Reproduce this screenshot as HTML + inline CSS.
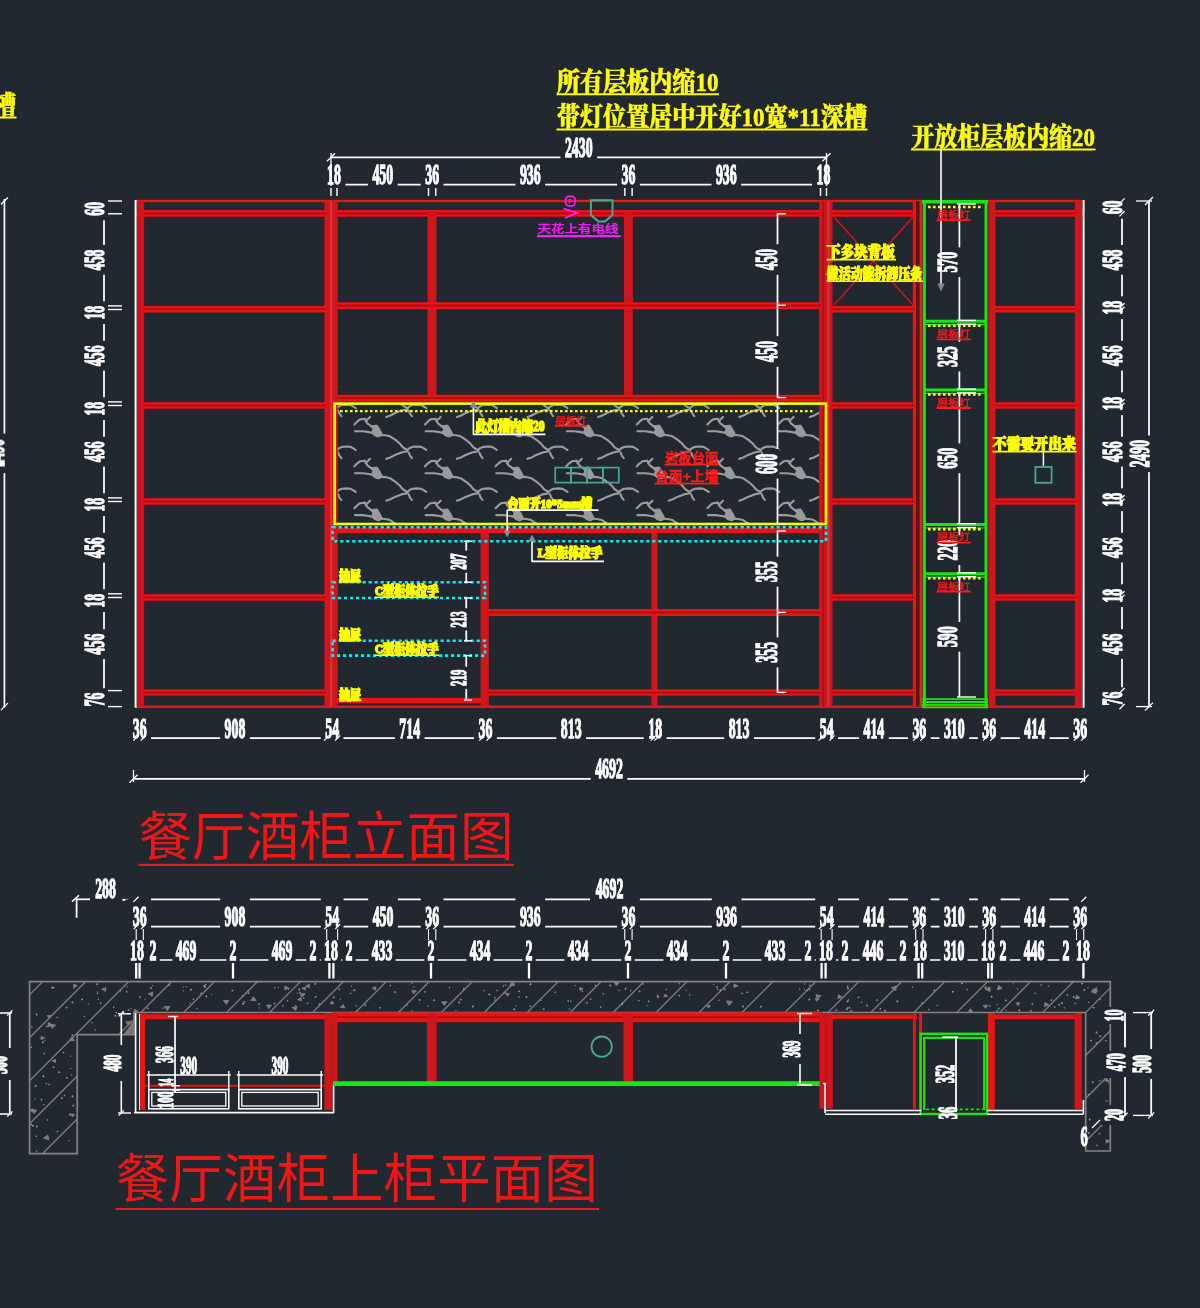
<!DOCTYPE html>
<html lang="zh"><head><meta charset="utf-8"><title>餐厅酒柜立面图</title>
<style>
html,body{margin:0;padding:0;background:#212830;}
body{width:1200px;height:1308px;overflow:hidden;}
svg{display:block;}
.d{font-family:"Liberation Serif","DejaVu Serif",serif;font-weight:bold;stroke:#fff;stroke-width:1.1px;vector-effect:non-scaling-stroke;}
.y{font-family:"Liberation Serif","Noto Serif CJK SC","Noto Sans CJK SC",serif;font-weight:900;fill:#ffff00;}
.t{font-family:"Liberation Sans","Noto Sans CJK SC","WenQuanYi Zen Hei",sans-serif;font-weight:400;fill:#f01418;}
.s{font-family:"Liberation Sans","Noto Sans CJK SC","WenQuanYi Zen Hei",sans-serif;}
</style></head><body>
<svg width="1200" height="1308" viewBox="0 0 1200 1308">
<defs><filter id="soft" x="0" y="0" width="1200" height="1308" filterUnits="userSpaceOnUse"><feGaussianBlur stdDeviation="0.55"/></filter></defs>
<rect width="1200" height="1308" fill="#212830"/>
<g filter="url(#soft)">
<g id="elev">
<clipPath id="mc"><rect x="335" y="404" width="490.5" height="119.5"/></clipPath>
<g clip-path="url(#mc)" fill="none" stroke="#9c9c9c" stroke-width="2.1" stroke-linecap="round" stroke-linejoin="round">
<path transform="translate(213.2 333.1)" d="M0,7.5 L3,4.5 L5.6,2.5 L10.6,1.9 M15.6,0 L11.2,4.4 M10.6,2.2 L13,6.5 L16.9,9.4 L21.9,13.1 M0.6,14.4 L8,14.4 L13.1,15 L21.9,16.9 M26.9,18.1 L31,18.3 L35.6,19.4 L41,23 L45.6,26.9 L48,30 L50.6,31.9 L53.1,33.1 M53.1,33.1 L55.5,31 L58.1,30 L63,29.6 L66.9,30 L69.5,31.5 L71.9,33.1 M53.1,34.4 L47,35.6 L40.6,38.1 L36,40.5 L31.9,41.9 M54.4,35.6 L55.5,38.5 L57.5,41.2"/>
<path transform="translate(213.2 333.1)" d="M16.2,9.0 L22.8,8.2 L25.5,12.5 L28.3,18.2 L24,20.2 L19.5,18.6 L17.2,15.5 L18.5,12.5 Z" fill="#9a9a9a" stroke-width="1"/>
<path transform="translate(283.8 333.1)" d="M0,7.5 L3,4.5 L5.6,2.5 L10.6,1.9 M15.6,0 L11.2,4.4 M10.6,2.2 L13,6.5 L16.9,9.4 L21.9,13.1 M0.6,14.4 L8,14.4 L13.1,15 L21.9,16.9 M26.9,18.1 L31,18.3 L35.6,19.4 L41,23 L45.6,26.9 L48,30 L50.6,31.9 L53.1,33.1 M53.1,33.1 L55.5,31 L58.1,30 L63,29.6 L66.9,30 L69.5,31.5 L71.9,33.1 M53.1,34.4 L47,35.6 L40.6,38.1 L36,40.5 L31.9,41.9 M54.4,35.6 L55.5,38.5 L57.5,41.2"/>
<path transform="translate(283.8 333.1)" d="M16.2,9.0 L22.8,8.2 L25.5,12.5 L28.3,18.2 L24,20.2 L19.5,18.6 L17.2,15.5 L18.5,12.5 Z" fill="#9a9a9a" stroke-width="1"/>
<path transform="translate(354.4 333.1)" d="M0,7.5 L3,4.5 L5.6,2.5 L10.6,1.9 M15.6,0 L11.2,4.4 M10.6,2.2 L13,6.5 L16.9,9.4 L21.9,13.1 M0.6,14.4 L8,14.4 L13.1,15 L21.9,16.9 M26.9,18.1 L31,18.3 L35.6,19.4 L41,23 L45.6,26.9 L48,30 L50.6,31.9 L53.1,33.1 M53.1,33.1 L55.5,31 L58.1,30 L63,29.6 L66.9,30 L69.5,31.5 L71.9,33.1 M53.1,34.4 L47,35.6 L40.6,38.1 L36,40.5 L31.9,41.9 M54.4,35.6 L55.5,38.5 L57.5,41.2"/>
<path transform="translate(354.4 333.1)" d="M16.2,9.0 L22.8,8.2 L25.5,12.5 L28.3,18.2 L24,20.2 L19.5,18.6 L17.2,15.5 L18.5,12.5 Z" fill="#9a9a9a" stroke-width="1"/>
<path transform="translate(425 333.1)" d="M0,7.5 L3,4.5 L5.6,2.5 L10.6,1.9 M15.6,0 L11.2,4.4 M10.6,2.2 L13,6.5 L16.9,9.4 L21.9,13.1 M0.6,14.4 L8,14.4 L13.1,15 L21.9,16.9 M26.9,18.1 L31,18.3 L35.6,19.4 L41,23 L45.6,26.9 L48,30 L50.6,31.9 L53.1,33.1 M53.1,33.1 L55.5,31 L58.1,30 L63,29.6 L66.9,30 L69.5,31.5 L71.9,33.1 M53.1,34.4 L47,35.6 L40.6,38.1 L36,40.5 L31.9,41.9 M54.4,35.6 L55.5,38.5 L57.5,41.2"/>
<path transform="translate(425 333.1)" d="M16.2,9.0 L22.8,8.2 L25.5,12.5 L28.3,18.2 L24,20.2 L19.5,18.6 L17.2,15.5 L18.5,12.5 Z" fill="#9a9a9a" stroke-width="1"/>
<path transform="translate(495.6 333.1)" d="M0,7.5 L3,4.5 L5.6,2.5 L10.6,1.9 M15.6,0 L11.2,4.4 M10.6,2.2 L13,6.5 L16.9,9.4 L21.9,13.1 M0.6,14.4 L8,14.4 L13.1,15 L21.9,16.9 M26.9,18.1 L31,18.3 L35.6,19.4 L41,23 L45.6,26.9 L48,30 L50.6,31.9 L53.1,33.1 M53.1,33.1 L55.5,31 L58.1,30 L63,29.6 L66.9,30 L69.5,31.5 L71.9,33.1 M53.1,34.4 L47,35.6 L40.6,38.1 L36,40.5 L31.9,41.9 M54.4,35.6 L55.5,38.5 L57.5,41.2"/>
<path transform="translate(495.6 333.1)" d="M16.2,9.0 L22.8,8.2 L25.5,12.5 L28.3,18.2 L24,20.2 L19.5,18.6 L17.2,15.5 L18.5,12.5 Z" fill="#9a9a9a" stroke-width="1"/>
<path transform="translate(566.2 333.1)" d="M0,7.5 L3,4.5 L5.6,2.5 L10.6,1.9 M15.6,0 L11.2,4.4 M10.6,2.2 L13,6.5 L16.9,9.4 L21.9,13.1 M0.6,14.4 L8,14.4 L13.1,15 L21.9,16.9 M26.9,18.1 L31,18.3 L35.6,19.4 L41,23 L45.6,26.9 L48,30 L50.6,31.9 L53.1,33.1 M53.1,33.1 L55.5,31 L58.1,30 L63,29.6 L66.9,30 L69.5,31.5 L71.9,33.1 M53.1,34.4 L47,35.6 L40.6,38.1 L36,40.5 L31.9,41.9 M54.4,35.6 L55.5,38.5 L57.5,41.2"/>
<path transform="translate(566.2 333.1)" d="M16.2,9.0 L22.8,8.2 L25.5,12.5 L28.3,18.2 L24,20.2 L19.5,18.6 L17.2,15.5 L18.5,12.5 Z" fill="#9a9a9a" stroke-width="1"/>
<path transform="translate(636.8 333.1)" d="M0,7.5 L3,4.5 L5.6,2.5 L10.6,1.9 M15.6,0 L11.2,4.4 M10.6,2.2 L13,6.5 L16.9,9.4 L21.9,13.1 M0.6,14.4 L8,14.4 L13.1,15 L21.9,16.9 M26.9,18.1 L31,18.3 L35.6,19.4 L41,23 L45.6,26.9 L48,30 L50.6,31.9 L53.1,33.1 M53.1,33.1 L55.5,31 L58.1,30 L63,29.6 L66.9,30 L69.5,31.5 L71.9,33.1 M53.1,34.4 L47,35.6 L40.6,38.1 L36,40.5 L31.9,41.9 M54.4,35.6 L55.5,38.5 L57.5,41.2"/>
<path transform="translate(636.8 333.1)" d="M16.2,9.0 L22.8,8.2 L25.5,12.5 L28.3,18.2 L24,20.2 L19.5,18.6 L17.2,15.5 L18.5,12.5 Z" fill="#9a9a9a" stroke-width="1"/>
<path transform="translate(707.4 333.1)" d="M0,7.5 L3,4.5 L5.6,2.5 L10.6,1.9 M15.6,0 L11.2,4.4 M10.6,2.2 L13,6.5 L16.9,9.4 L21.9,13.1 M0.6,14.4 L8,14.4 L13.1,15 L21.9,16.9 M26.9,18.1 L31,18.3 L35.6,19.4 L41,23 L45.6,26.9 L48,30 L50.6,31.9 L53.1,33.1 M53.1,33.1 L55.5,31 L58.1,30 L63,29.6 L66.9,30 L69.5,31.5 L71.9,33.1 M53.1,34.4 L47,35.6 L40.6,38.1 L36,40.5 L31.9,41.9 M54.4,35.6 L55.5,38.5 L57.5,41.2"/>
<path transform="translate(707.4 333.1)" d="M16.2,9.0 L22.8,8.2 L25.5,12.5 L28.3,18.2 L24,20.2 L19.5,18.6 L17.2,15.5 L18.5,12.5 Z" fill="#9a9a9a" stroke-width="1"/>
<path transform="translate(778 333.1)" d="M0,7.5 L3,4.5 L5.6,2.5 L10.6,1.9 M15.6,0 L11.2,4.4 M10.6,2.2 L13,6.5 L16.9,9.4 L21.9,13.1 M0.6,14.4 L8,14.4 L13.1,15 L21.9,16.9 M26.9,18.1 L31,18.3 L35.6,19.4 L41,23 L45.6,26.9 L48,30 L50.6,31.9 L53.1,33.1 M53.1,33.1 L55.5,31 L58.1,30 L63,29.6 L66.9,30 L69.5,31.5 L71.9,33.1 M53.1,34.4 L47,35.6 L40.6,38.1 L36,40.5 L31.9,41.9 M54.4,35.6 L55.5,38.5 L57.5,41.2"/>
<path transform="translate(778 333.1)" d="M16.2,9.0 L22.8,8.2 L25.5,12.5 L28.3,18.2 L24,20.2 L19.5,18.6 L17.2,15.5 L18.5,12.5 Z" fill="#9a9a9a" stroke-width="1"/>
<path transform="translate(213.2 375)" d="M0,7.5 L3,4.5 L5.6,2.5 L10.6,1.9 M15.6,0 L11.2,4.4 M10.6,2.2 L13,6.5 L16.9,9.4 L21.9,13.1 M0.6,14.4 L8,14.4 L13.1,15 L21.9,16.9 M26.9,18.1 L31,18.3 L35.6,19.4 L41,23 L45.6,26.9 L48,30 L50.6,31.9 L53.1,33.1 M53.1,33.1 L55.5,31 L58.1,30 L63,29.6 L66.9,30 L69.5,31.5 L71.9,33.1 M53.1,34.4 L47,35.6 L40.6,38.1 L36,40.5 L31.9,41.9 M54.4,35.6 L55.5,38.5 L57.5,41.2"/>
<path transform="translate(213.2 375)" d="M16.2,9.0 L22.8,8.2 L25.5,12.5 L28.3,18.2 L24,20.2 L19.5,18.6 L17.2,15.5 L18.5,12.5 Z" fill="#9a9a9a" stroke-width="1"/>
<path transform="translate(283.8 375)" d="M0,7.5 L3,4.5 L5.6,2.5 L10.6,1.9 M15.6,0 L11.2,4.4 M10.6,2.2 L13,6.5 L16.9,9.4 L21.9,13.1 M0.6,14.4 L8,14.4 L13.1,15 L21.9,16.9 M26.9,18.1 L31,18.3 L35.6,19.4 L41,23 L45.6,26.9 L48,30 L50.6,31.9 L53.1,33.1 M53.1,33.1 L55.5,31 L58.1,30 L63,29.6 L66.9,30 L69.5,31.5 L71.9,33.1 M53.1,34.4 L47,35.6 L40.6,38.1 L36,40.5 L31.9,41.9 M54.4,35.6 L55.5,38.5 L57.5,41.2"/>
<path transform="translate(283.8 375)" d="M16.2,9.0 L22.8,8.2 L25.5,12.5 L28.3,18.2 L24,20.2 L19.5,18.6 L17.2,15.5 L18.5,12.5 Z" fill="#9a9a9a" stroke-width="1"/>
<path transform="translate(354.4 375)" d="M0,7.5 L3,4.5 L5.6,2.5 L10.6,1.9 M15.6,0 L11.2,4.4 M10.6,2.2 L13,6.5 L16.9,9.4 L21.9,13.1 M0.6,14.4 L8,14.4 L13.1,15 L21.9,16.9 M26.9,18.1 L31,18.3 L35.6,19.4 L41,23 L45.6,26.9 L48,30 L50.6,31.9 L53.1,33.1 M53.1,33.1 L55.5,31 L58.1,30 L63,29.6 L66.9,30 L69.5,31.5 L71.9,33.1 M53.1,34.4 L47,35.6 L40.6,38.1 L36,40.5 L31.9,41.9 M54.4,35.6 L55.5,38.5 L57.5,41.2"/>
<path transform="translate(354.4 375)" d="M16.2,9.0 L22.8,8.2 L25.5,12.5 L28.3,18.2 L24,20.2 L19.5,18.6 L17.2,15.5 L18.5,12.5 Z" fill="#9a9a9a" stroke-width="1"/>
<path transform="translate(425 375)" d="M0,7.5 L3,4.5 L5.6,2.5 L10.6,1.9 M15.6,0 L11.2,4.4 M10.6,2.2 L13,6.5 L16.9,9.4 L21.9,13.1 M0.6,14.4 L8,14.4 L13.1,15 L21.9,16.9 M26.9,18.1 L31,18.3 L35.6,19.4 L41,23 L45.6,26.9 L48,30 L50.6,31.9 L53.1,33.1 M53.1,33.1 L55.5,31 L58.1,30 L63,29.6 L66.9,30 L69.5,31.5 L71.9,33.1 M53.1,34.4 L47,35.6 L40.6,38.1 L36,40.5 L31.9,41.9 M54.4,35.6 L55.5,38.5 L57.5,41.2"/>
<path transform="translate(425 375)" d="M16.2,9.0 L22.8,8.2 L25.5,12.5 L28.3,18.2 L24,20.2 L19.5,18.6 L17.2,15.5 L18.5,12.5 Z" fill="#9a9a9a" stroke-width="1"/>
<path transform="translate(495.6 375)" d="M0,7.5 L3,4.5 L5.6,2.5 L10.6,1.9 M15.6,0 L11.2,4.4 M10.6,2.2 L13,6.5 L16.9,9.4 L21.9,13.1 M0.6,14.4 L8,14.4 L13.1,15 L21.9,16.9 M26.9,18.1 L31,18.3 L35.6,19.4 L41,23 L45.6,26.9 L48,30 L50.6,31.9 L53.1,33.1 M53.1,33.1 L55.5,31 L58.1,30 L63,29.6 L66.9,30 L69.5,31.5 L71.9,33.1 M53.1,34.4 L47,35.6 L40.6,38.1 L36,40.5 L31.9,41.9 M54.4,35.6 L55.5,38.5 L57.5,41.2"/>
<path transform="translate(495.6 375)" d="M16.2,9.0 L22.8,8.2 L25.5,12.5 L28.3,18.2 L24,20.2 L19.5,18.6 L17.2,15.5 L18.5,12.5 Z" fill="#9a9a9a" stroke-width="1"/>
<path transform="translate(566.2 375)" d="M0,7.5 L3,4.5 L5.6,2.5 L10.6,1.9 M15.6,0 L11.2,4.4 M10.6,2.2 L13,6.5 L16.9,9.4 L21.9,13.1 M0.6,14.4 L8,14.4 L13.1,15 L21.9,16.9 M26.9,18.1 L31,18.3 L35.6,19.4 L41,23 L45.6,26.9 L48,30 L50.6,31.9 L53.1,33.1 M53.1,33.1 L55.5,31 L58.1,30 L63,29.6 L66.9,30 L69.5,31.5 L71.9,33.1 M53.1,34.4 L47,35.6 L40.6,38.1 L36,40.5 L31.9,41.9 M54.4,35.6 L55.5,38.5 L57.5,41.2"/>
<path transform="translate(566.2 375)" d="M16.2,9.0 L22.8,8.2 L25.5,12.5 L28.3,18.2 L24,20.2 L19.5,18.6 L17.2,15.5 L18.5,12.5 Z" fill="#9a9a9a" stroke-width="1"/>
<path transform="translate(636.8 375)" d="M0,7.5 L3,4.5 L5.6,2.5 L10.6,1.9 M15.6,0 L11.2,4.4 M10.6,2.2 L13,6.5 L16.9,9.4 L21.9,13.1 M0.6,14.4 L8,14.4 L13.1,15 L21.9,16.9 M26.9,18.1 L31,18.3 L35.6,19.4 L41,23 L45.6,26.9 L48,30 L50.6,31.9 L53.1,33.1 M53.1,33.1 L55.5,31 L58.1,30 L63,29.6 L66.9,30 L69.5,31.5 L71.9,33.1 M53.1,34.4 L47,35.6 L40.6,38.1 L36,40.5 L31.9,41.9 M54.4,35.6 L55.5,38.5 L57.5,41.2"/>
<path transform="translate(636.8 375)" d="M16.2,9.0 L22.8,8.2 L25.5,12.5 L28.3,18.2 L24,20.2 L19.5,18.6 L17.2,15.5 L18.5,12.5 Z" fill="#9a9a9a" stroke-width="1"/>
<path transform="translate(707.4 375)" d="M0,7.5 L3,4.5 L5.6,2.5 L10.6,1.9 M15.6,0 L11.2,4.4 M10.6,2.2 L13,6.5 L16.9,9.4 L21.9,13.1 M0.6,14.4 L8,14.4 L13.1,15 L21.9,16.9 M26.9,18.1 L31,18.3 L35.6,19.4 L41,23 L45.6,26.9 L48,30 L50.6,31.9 L53.1,33.1 M53.1,33.1 L55.5,31 L58.1,30 L63,29.6 L66.9,30 L69.5,31.5 L71.9,33.1 M53.1,34.4 L47,35.6 L40.6,38.1 L36,40.5 L31.9,41.9 M54.4,35.6 L55.5,38.5 L57.5,41.2"/>
<path transform="translate(707.4 375)" d="M16.2,9.0 L22.8,8.2 L25.5,12.5 L28.3,18.2 L24,20.2 L19.5,18.6 L17.2,15.5 L18.5,12.5 Z" fill="#9a9a9a" stroke-width="1"/>
<path transform="translate(778 375)" d="M0,7.5 L3,4.5 L5.6,2.5 L10.6,1.9 M15.6,0 L11.2,4.4 M10.6,2.2 L13,6.5 L16.9,9.4 L21.9,13.1 M0.6,14.4 L8,14.4 L13.1,15 L21.9,16.9 M26.9,18.1 L31,18.3 L35.6,19.4 L41,23 L45.6,26.9 L48,30 L50.6,31.9 L53.1,33.1 M53.1,33.1 L55.5,31 L58.1,30 L63,29.6 L66.9,30 L69.5,31.5 L71.9,33.1 M53.1,34.4 L47,35.6 L40.6,38.1 L36,40.5 L31.9,41.9 M54.4,35.6 L55.5,38.5 L57.5,41.2"/>
<path transform="translate(778 375)" d="M16.2,9.0 L22.8,8.2 L25.5,12.5 L28.3,18.2 L24,20.2 L19.5,18.6 L17.2,15.5 L18.5,12.5 Z" fill="#9a9a9a" stroke-width="1"/>
<path transform="translate(213.2 416.9)" d="M0,7.5 L3,4.5 L5.6,2.5 L10.6,1.9 M15.6,0 L11.2,4.4 M10.6,2.2 L13,6.5 L16.9,9.4 L21.9,13.1 M0.6,14.4 L8,14.4 L13.1,15 L21.9,16.9 M26.9,18.1 L31,18.3 L35.6,19.4 L41,23 L45.6,26.9 L48,30 L50.6,31.9 L53.1,33.1 M53.1,33.1 L55.5,31 L58.1,30 L63,29.6 L66.9,30 L69.5,31.5 L71.9,33.1 M53.1,34.4 L47,35.6 L40.6,38.1 L36,40.5 L31.9,41.9 M54.4,35.6 L55.5,38.5 L57.5,41.2"/>
<path transform="translate(213.2 416.9)" d="M16.2,9.0 L22.8,8.2 L25.5,12.5 L28.3,18.2 L24,20.2 L19.5,18.6 L17.2,15.5 L18.5,12.5 Z" fill="#9a9a9a" stroke-width="1"/>
<path transform="translate(283.8 416.9)" d="M0,7.5 L3,4.5 L5.6,2.5 L10.6,1.9 M15.6,0 L11.2,4.4 M10.6,2.2 L13,6.5 L16.9,9.4 L21.9,13.1 M0.6,14.4 L8,14.4 L13.1,15 L21.9,16.9 M26.9,18.1 L31,18.3 L35.6,19.4 L41,23 L45.6,26.9 L48,30 L50.6,31.9 L53.1,33.1 M53.1,33.1 L55.5,31 L58.1,30 L63,29.6 L66.9,30 L69.5,31.5 L71.9,33.1 M53.1,34.4 L47,35.6 L40.6,38.1 L36,40.5 L31.9,41.9 M54.4,35.6 L55.5,38.5 L57.5,41.2"/>
<path transform="translate(283.8 416.9)" d="M16.2,9.0 L22.8,8.2 L25.5,12.5 L28.3,18.2 L24,20.2 L19.5,18.6 L17.2,15.5 L18.5,12.5 Z" fill="#9a9a9a" stroke-width="1"/>
<path transform="translate(354.4 416.9)" d="M0,7.5 L3,4.5 L5.6,2.5 L10.6,1.9 M15.6,0 L11.2,4.4 M10.6,2.2 L13,6.5 L16.9,9.4 L21.9,13.1 M0.6,14.4 L8,14.4 L13.1,15 L21.9,16.9 M26.9,18.1 L31,18.3 L35.6,19.4 L41,23 L45.6,26.9 L48,30 L50.6,31.9 L53.1,33.1 M53.1,33.1 L55.5,31 L58.1,30 L63,29.6 L66.9,30 L69.5,31.5 L71.9,33.1 M53.1,34.4 L47,35.6 L40.6,38.1 L36,40.5 L31.9,41.9 M54.4,35.6 L55.5,38.5 L57.5,41.2"/>
<path transform="translate(354.4 416.9)" d="M16.2,9.0 L22.8,8.2 L25.5,12.5 L28.3,18.2 L24,20.2 L19.5,18.6 L17.2,15.5 L18.5,12.5 Z" fill="#9a9a9a" stroke-width="1"/>
<path transform="translate(425 416.9)" d="M0,7.5 L3,4.5 L5.6,2.5 L10.6,1.9 M15.6,0 L11.2,4.4 M10.6,2.2 L13,6.5 L16.9,9.4 L21.9,13.1 M0.6,14.4 L8,14.4 L13.1,15 L21.9,16.9 M26.9,18.1 L31,18.3 L35.6,19.4 L41,23 L45.6,26.9 L48,30 L50.6,31.9 L53.1,33.1 M53.1,33.1 L55.5,31 L58.1,30 L63,29.6 L66.9,30 L69.5,31.5 L71.9,33.1 M53.1,34.4 L47,35.6 L40.6,38.1 L36,40.5 L31.9,41.9 M54.4,35.6 L55.5,38.5 L57.5,41.2"/>
<path transform="translate(425 416.9)" d="M16.2,9.0 L22.8,8.2 L25.5,12.5 L28.3,18.2 L24,20.2 L19.5,18.6 L17.2,15.5 L18.5,12.5 Z" fill="#9a9a9a" stroke-width="1"/>
<path transform="translate(495.6 416.9)" d="M0,7.5 L3,4.5 L5.6,2.5 L10.6,1.9 M15.6,0 L11.2,4.4 M10.6,2.2 L13,6.5 L16.9,9.4 L21.9,13.1 M0.6,14.4 L8,14.4 L13.1,15 L21.9,16.9 M26.9,18.1 L31,18.3 L35.6,19.4 L41,23 L45.6,26.9 L48,30 L50.6,31.9 L53.1,33.1 M53.1,33.1 L55.5,31 L58.1,30 L63,29.6 L66.9,30 L69.5,31.5 L71.9,33.1 M53.1,34.4 L47,35.6 L40.6,38.1 L36,40.5 L31.9,41.9 M54.4,35.6 L55.5,38.5 L57.5,41.2"/>
<path transform="translate(495.6 416.9)" d="M16.2,9.0 L22.8,8.2 L25.5,12.5 L28.3,18.2 L24,20.2 L19.5,18.6 L17.2,15.5 L18.5,12.5 Z" fill="#9a9a9a" stroke-width="1"/>
<path transform="translate(566.2 416.9)" d="M0,7.5 L3,4.5 L5.6,2.5 L10.6,1.9 M15.6,0 L11.2,4.4 M10.6,2.2 L13,6.5 L16.9,9.4 L21.9,13.1 M0.6,14.4 L8,14.4 L13.1,15 L21.9,16.9 M26.9,18.1 L31,18.3 L35.6,19.4 L41,23 L45.6,26.9 L48,30 L50.6,31.9 L53.1,33.1 M53.1,33.1 L55.5,31 L58.1,30 L63,29.6 L66.9,30 L69.5,31.5 L71.9,33.1 M53.1,34.4 L47,35.6 L40.6,38.1 L36,40.5 L31.9,41.9 M54.4,35.6 L55.5,38.5 L57.5,41.2"/>
<path transform="translate(566.2 416.9)" d="M16.2,9.0 L22.8,8.2 L25.5,12.5 L28.3,18.2 L24,20.2 L19.5,18.6 L17.2,15.5 L18.5,12.5 Z" fill="#9a9a9a" stroke-width="1"/>
<path transform="translate(636.8 416.9)" d="M0,7.5 L3,4.5 L5.6,2.5 L10.6,1.9 M15.6,0 L11.2,4.4 M10.6,2.2 L13,6.5 L16.9,9.4 L21.9,13.1 M0.6,14.4 L8,14.4 L13.1,15 L21.9,16.9 M26.9,18.1 L31,18.3 L35.6,19.4 L41,23 L45.6,26.9 L48,30 L50.6,31.9 L53.1,33.1 M53.1,33.1 L55.5,31 L58.1,30 L63,29.6 L66.9,30 L69.5,31.5 L71.9,33.1 M53.1,34.4 L47,35.6 L40.6,38.1 L36,40.5 L31.9,41.9 M54.4,35.6 L55.5,38.5 L57.5,41.2"/>
<path transform="translate(636.8 416.9)" d="M16.2,9.0 L22.8,8.2 L25.5,12.5 L28.3,18.2 L24,20.2 L19.5,18.6 L17.2,15.5 L18.5,12.5 Z" fill="#9a9a9a" stroke-width="1"/>
<path transform="translate(707.4 416.9)" d="M0,7.5 L3,4.5 L5.6,2.5 L10.6,1.9 M15.6,0 L11.2,4.4 M10.6,2.2 L13,6.5 L16.9,9.4 L21.9,13.1 M0.6,14.4 L8,14.4 L13.1,15 L21.9,16.9 M26.9,18.1 L31,18.3 L35.6,19.4 L41,23 L45.6,26.9 L48,30 L50.6,31.9 L53.1,33.1 M53.1,33.1 L55.5,31 L58.1,30 L63,29.6 L66.9,30 L69.5,31.5 L71.9,33.1 M53.1,34.4 L47,35.6 L40.6,38.1 L36,40.5 L31.9,41.9 M54.4,35.6 L55.5,38.5 L57.5,41.2"/>
<path transform="translate(707.4 416.9)" d="M16.2,9.0 L22.8,8.2 L25.5,12.5 L28.3,18.2 L24,20.2 L19.5,18.6 L17.2,15.5 L18.5,12.5 Z" fill="#9a9a9a" stroke-width="1"/>
<path transform="translate(778 416.9)" d="M0,7.5 L3,4.5 L5.6,2.5 L10.6,1.9 M15.6,0 L11.2,4.4 M10.6,2.2 L13,6.5 L16.9,9.4 L21.9,13.1 M0.6,14.4 L8,14.4 L13.1,15 L21.9,16.9 M26.9,18.1 L31,18.3 L35.6,19.4 L41,23 L45.6,26.9 L48,30 L50.6,31.9 L53.1,33.1 M53.1,33.1 L55.5,31 L58.1,30 L63,29.6 L66.9,30 L69.5,31.5 L71.9,33.1 M53.1,34.4 L47,35.6 L40.6,38.1 L36,40.5 L31.9,41.9 M54.4,35.6 L55.5,38.5 L57.5,41.2"/>
<path transform="translate(778 416.9)" d="M16.2,9.0 L22.8,8.2 L25.5,12.5 L28.3,18.2 L24,20.2 L19.5,18.6 L17.2,15.5 L18.5,12.5 Z" fill="#9a9a9a" stroke-width="1"/>
<path transform="translate(213.2 458.8)" d="M0,7.5 L3,4.5 L5.6,2.5 L10.6,1.9 M15.6,0 L11.2,4.4 M10.6,2.2 L13,6.5 L16.9,9.4 L21.9,13.1 M0.6,14.4 L8,14.4 L13.1,15 L21.9,16.9 M26.9,18.1 L31,18.3 L35.6,19.4 L41,23 L45.6,26.9 L48,30 L50.6,31.9 L53.1,33.1 M53.1,33.1 L55.5,31 L58.1,30 L63,29.6 L66.9,30 L69.5,31.5 L71.9,33.1 M53.1,34.4 L47,35.6 L40.6,38.1 L36,40.5 L31.9,41.9 M54.4,35.6 L55.5,38.5 L57.5,41.2"/>
<path transform="translate(213.2 458.8)" d="M16.2,9.0 L22.8,8.2 L25.5,12.5 L28.3,18.2 L24,20.2 L19.5,18.6 L17.2,15.5 L18.5,12.5 Z" fill="#9a9a9a" stroke-width="1"/>
<path transform="translate(283.8 458.8)" d="M0,7.5 L3,4.5 L5.6,2.5 L10.6,1.9 M15.6,0 L11.2,4.4 M10.6,2.2 L13,6.5 L16.9,9.4 L21.9,13.1 M0.6,14.4 L8,14.4 L13.1,15 L21.9,16.9 M26.9,18.1 L31,18.3 L35.6,19.4 L41,23 L45.6,26.9 L48,30 L50.6,31.9 L53.1,33.1 M53.1,33.1 L55.5,31 L58.1,30 L63,29.6 L66.9,30 L69.5,31.5 L71.9,33.1 M53.1,34.4 L47,35.6 L40.6,38.1 L36,40.5 L31.9,41.9 M54.4,35.6 L55.5,38.5 L57.5,41.2"/>
<path transform="translate(283.8 458.8)" d="M16.2,9.0 L22.8,8.2 L25.5,12.5 L28.3,18.2 L24,20.2 L19.5,18.6 L17.2,15.5 L18.5,12.5 Z" fill="#9a9a9a" stroke-width="1"/>
<path transform="translate(354.4 458.8)" d="M0,7.5 L3,4.5 L5.6,2.5 L10.6,1.9 M15.6,0 L11.2,4.4 M10.6,2.2 L13,6.5 L16.9,9.4 L21.9,13.1 M0.6,14.4 L8,14.4 L13.1,15 L21.9,16.9 M26.9,18.1 L31,18.3 L35.6,19.4 L41,23 L45.6,26.9 L48,30 L50.6,31.9 L53.1,33.1 M53.1,33.1 L55.5,31 L58.1,30 L63,29.6 L66.9,30 L69.5,31.5 L71.9,33.1 M53.1,34.4 L47,35.6 L40.6,38.1 L36,40.5 L31.9,41.9 M54.4,35.6 L55.5,38.5 L57.5,41.2"/>
<path transform="translate(354.4 458.8)" d="M16.2,9.0 L22.8,8.2 L25.5,12.5 L28.3,18.2 L24,20.2 L19.5,18.6 L17.2,15.5 L18.5,12.5 Z" fill="#9a9a9a" stroke-width="1"/>
<path transform="translate(425 458.8)" d="M0,7.5 L3,4.5 L5.6,2.5 L10.6,1.9 M15.6,0 L11.2,4.4 M10.6,2.2 L13,6.5 L16.9,9.4 L21.9,13.1 M0.6,14.4 L8,14.4 L13.1,15 L21.9,16.9 M26.9,18.1 L31,18.3 L35.6,19.4 L41,23 L45.6,26.9 L48,30 L50.6,31.9 L53.1,33.1 M53.1,33.1 L55.5,31 L58.1,30 L63,29.6 L66.9,30 L69.5,31.5 L71.9,33.1 M53.1,34.4 L47,35.6 L40.6,38.1 L36,40.5 L31.9,41.9 M54.4,35.6 L55.5,38.5 L57.5,41.2"/>
<path transform="translate(425 458.8)" d="M16.2,9.0 L22.8,8.2 L25.5,12.5 L28.3,18.2 L24,20.2 L19.5,18.6 L17.2,15.5 L18.5,12.5 Z" fill="#9a9a9a" stroke-width="1"/>
<path transform="translate(495.6 458.8)" d="M0,7.5 L3,4.5 L5.6,2.5 L10.6,1.9 M15.6,0 L11.2,4.4 M10.6,2.2 L13,6.5 L16.9,9.4 L21.9,13.1 M0.6,14.4 L8,14.4 L13.1,15 L21.9,16.9 M26.9,18.1 L31,18.3 L35.6,19.4 L41,23 L45.6,26.9 L48,30 L50.6,31.9 L53.1,33.1 M53.1,33.1 L55.5,31 L58.1,30 L63,29.6 L66.9,30 L69.5,31.5 L71.9,33.1 M53.1,34.4 L47,35.6 L40.6,38.1 L36,40.5 L31.9,41.9 M54.4,35.6 L55.5,38.5 L57.5,41.2"/>
<path transform="translate(495.6 458.8)" d="M16.2,9.0 L22.8,8.2 L25.5,12.5 L28.3,18.2 L24,20.2 L19.5,18.6 L17.2,15.5 L18.5,12.5 Z" fill="#9a9a9a" stroke-width="1"/>
<path transform="translate(566.2 458.8)" d="M0,7.5 L3,4.5 L5.6,2.5 L10.6,1.9 M15.6,0 L11.2,4.4 M10.6,2.2 L13,6.5 L16.9,9.4 L21.9,13.1 M0.6,14.4 L8,14.4 L13.1,15 L21.9,16.9 M26.9,18.1 L31,18.3 L35.6,19.4 L41,23 L45.6,26.9 L48,30 L50.6,31.9 L53.1,33.1 M53.1,33.1 L55.5,31 L58.1,30 L63,29.6 L66.9,30 L69.5,31.5 L71.9,33.1 M53.1,34.4 L47,35.6 L40.6,38.1 L36,40.5 L31.9,41.9 M54.4,35.6 L55.5,38.5 L57.5,41.2"/>
<path transform="translate(566.2 458.8)" d="M16.2,9.0 L22.8,8.2 L25.5,12.5 L28.3,18.2 L24,20.2 L19.5,18.6 L17.2,15.5 L18.5,12.5 Z" fill="#9a9a9a" stroke-width="1"/>
<path transform="translate(636.8 458.8)" d="M0,7.5 L3,4.5 L5.6,2.5 L10.6,1.9 M15.6,0 L11.2,4.4 M10.6,2.2 L13,6.5 L16.9,9.4 L21.9,13.1 M0.6,14.4 L8,14.4 L13.1,15 L21.9,16.9 M26.9,18.1 L31,18.3 L35.6,19.4 L41,23 L45.6,26.9 L48,30 L50.6,31.9 L53.1,33.1 M53.1,33.1 L55.5,31 L58.1,30 L63,29.6 L66.9,30 L69.5,31.5 L71.9,33.1 M53.1,34.4 L47,35.6 L40.6,38.1 L36,40.5 L31.9,41.9 M54.4,35.6 L55.5,38.5 L57.5,41.2"/>
<path transform="translate(636.8 458.8)" d="M16.2,9.0 L22.8,8.2 L25.5,12.5 L28.3,18.2 L24,20.2 L19.5,18.6 L17.2,15.5 L18.5,12.5 Z" fill="#9a9a9a" stroke-width="1"/>
<path transform="translate(707.4 458.8)" d="M0,7.5 L3,4.5 L5.6,2.5 L10.6,1.9 M15.6,0 L11.2,4.4 M10.6,2.2 L13,6.5 L16.9,9.4 L21.9,13.1 M0.6,14.4 L8,14.4 L13.1,15 L21.9,16.9 M26.9,18.1 L31,18.3 L35.6,19.4 L41,23 L45.6,26.9 L48,30 L50.6,31.9 L53.1,33.1 M53.1,33.1 L55.5,31 L58.1,30 L63,29.6 L66.9,30 L69.5,31.5 L71.9,33.1 M53.1,34.4 L47,35.6 L40.6,38.1 L36,40.5 L31.9,41.9 M54.4,35.6 L55.5,38.5 L57.5,41.2"/>
<path transform="translate(707.4 458.8)" d="M16.2,9.0 L22.8,8.2 L25.5,12.5 L28.3,18.2 L24,20.2 L19.5,18.6 L17.2,15.5 L18.5,12.5 Z" fill="#9a9a9a" stroke-width="1"/>
<path transform="translate(778 458.8)" d="M0,7.5 L3,4.5 L5.6,2.5 L10.6,1.9 M15.6,0 L11.2,4.4 M10.6,2.2 L13,6.5 L16.9,9.4 L21.9,13.1 M0.6,14.4 L8,14.4 L13.1,15 L21.9,16.9 M26.9,18.1 L31,18.3 L35.6,19.4 L41,23 L45.6,26.9 L48,30 L50.6,31.9 L53.1,33.1 M53.1,33.1 L55.5,31 L58.1,30 L63,29.6 L66.9,30 L69.5,31.5 L71.9,33.1 M53.1,34.4 L47,35.6 L40.6,38.1 L36,40.5 L31.9,41.9 M54.4,35.6 L55.5,38.5 L57.5,41.2"/>
<path transform="translate(778 458.8)" d="M16.2,9.0 L22.8,8.2 L25.5,12.5 L28.3,18.2 L24,20.2 L19.5,18.6 L17.2,15.5 L18.5,12.5 Z" fill="#9a9a9a" stroke-width="1"/>
<path transform="translate(213.2 500.7)" d="M0,7.5 L3,4.5 L5.6,2.5 L10.6,1.9 M15.6,0 L11.2,4.4 M10.6,2.2 L13,6.5 L16.9,9.4 L21.9,13.1 M0.6,14.4 L8,14.4 L13.1,15 L21.9,16.9 M26.9,18.1 L31,18.3 L35.6,19.4 L41,23 L45.6,26.9 L48,30 L50.6,31.9 L53.1,33.1 M53.1,33.1 L55.5,31 L58.1,30 L63,29.6 L66.9,30 L69.5,31.5 L71.9,33.1 M53.1,34.4 L47,35.6 L40.6,38.1 L36,40.5 L31.9,41.9 M54.4,35.6 L55.5,38.5 L57.5,41.2"/>
<path transform="translate(213.2 500.7)" d="M16.2,9.0 L22.8,8.2 L25.5,12.5 L28.3,18.2 L24,20.2 L19.5,18.6 L17.2,15.5 L18.5,12.5 Z" fill="#9a9a9a" stroke-width="1"/>
<path transform="translate(283.8 500.7)" d="M0,7.5 L3,4.5 L5.6,2.5 L10.6,1.9 M15.6,0 L11.2,4.4 M10.6,2.2 L13,6.5 L16.9,9.4 L21.9,13.1 M0.6,14.4 L8,14.4 L13.1,15 L21.9,16.9 M26.9,18.1 L31,18.3 L35.6,19.4 L41,23 L45.6,26.9 L48,30 L50.6,31.9 L53.1,33.1 M53.1,33.1 L55.5,31 L58.1,30 L63,29.6 L66.9,30 L69.5,31.5 L71.9,33.1 M53.1,34.4 L47,35.6 L40.6,38.1 L36,40.5 L31.9,41.9 M54.4,35.6 L55.5,38.5 L57.5,41.2"/>
<path transform="translate(283.8 500.7)" d="M16.2,9.0 L22.8,8.2 L25.5,12.5 L28.3,18.2 L24,20.2 L19.5,18.6 L17.2,15.5 L18.5,12.5 Z" fill="#9a9a9a" stroke-width="1"/>
<path transform="translate(354.4 500.7)" d="M0,7.5 L3,4.5 L5.6,2.5 L10.6,1.9 M15.6,0 L11.2,4.4 M10.6,2.2 L13,6.5 L16.9,9.4 L21.9,13.1 M0.6,14.4 L8,14.4 L13.1,15 L21.9,16.9 M26.9,18.1 L31,18.3 L35.6,19.4 L41,23 L45.6,26.9 L48,30 L50.6,31.9 L53.1,33.1 M53.1,33.1 L55.5,31 L58.1,30 L63,29.6 L66.9,30 L69.5,31.5 L71.9,33.1 M53.1,34.4 L47,35.6 L40.6,38.1 L36,40.5 L31.9,41.9 M54.4,35.6 L55.5,38.5 L57.5,41.2"/>
<path transform="translate(354.4 500.7)" d="M16.2,9.0 L22.8,8.2 L25.5,12.5 L28.3,18.2 L24,20.2 L19.5,18.6 L17.2,15.5 L18.5,12.5 Z" fill="#9a9a9a" stroke-width="1"/>
<path transform="translate(425 500.7)" d="M0,7.5 L3,4.5 L5.6,2.5 L10.6,1.9 M15.6,0 L11.2,4.4 M10.6,2.2 L13,6.5 L16.9,9.4 L21.9,13.1 M0.6,14.4 L8,14.4 L13.1,15 L21.9,16.9 M26.9,18.1 L31,18.3 L35.6,19.4 L41,23 L45.6,26.9 L48,30 L50.6,31.9 L53.1,33.1 M53.1,33.1 L55.5,31 L58.1,30 L63,29.6 L66.9,30 L69.5,31.5 L71.9,33.1 M53.1,34.4 L47,35.6 L40.6,38.1 L36,40.5 L31.9,41.9 M54.4,35.6 L55.5,38.5 L57.5,41.2"/>
<path transform="translate(425 500.7)" d="M16.2,9.0 L22.8,8.2 L25.5,12.5 L28.3,18.2 L24,20.2 L19.5,18.6 L17.2,15.5 L18.5,12.5 Z" fill="#9a9a9a" stroke-width="1"/>
<path transform="translate(495.6 500.7)" d="M0,7.5 L3,4.5 L5.6,2.5 L10.6,1.9 M15.6,0 L11.2,4.4 M10.6,2.2 L13,6.5 L16.9,9.4 L21.9,13.1 M0.6,14.4 L8,14.4 L13.1,15 L21.9,16.9 M26.9,18.1 L31,18.3 L35.6,19.4 L41,23 L45.6,26.9 L48,30 L50.6,31.9 L53.1,33.1 M53.1,33.1 L55.5,31 L58.1,30 L63,29.6 L66.9,30 L69.5,31.5 L71.9,33.1 M53.1,34.4 L47,35.6 L40.6,38.1 L36,40.5 L31.9,41.9 M54.4,35.6 L55.5,38.5 L57.5,41.2"/>
<path transform="translate(495.6 500.7)" d="M16.2,9.0 L22.8,8.2 L25.5,12.5 L28.3,18.2 L24,20.2 L19.5,18.6 L17.2,15.5 L18.5,12.5 Z" fill="#9a9a9a" stroke-width="1"/>
<path transform="translate(566.2 500.7)" d="M0,7.5 L3,4.5 L5.6,2.5 L10.6,1.9 M15.6,0 L11.2,4.4 M10.6,2.2 L13,6.5 L16.9,9.4 L21.9,13.1 M0.6,14.4 L8,14.4 L13.1,15 L21.9,16.9 M26.9,18.1 L31,18.3 L35.6,19.4 L41,23 L45.6,26.9 L48,30 L50.6,31.9 L53.1,33.1 M53.1,33.1 L55.5,31 L58.1,30 L63,29.6 L66.9,30 L69.5,31.5 L71.9,33.1 M53.1,34.4 L47,35.6 L40.6,38.1 L36,40.5 L31.9,41.9 M54.4,35.6 L55.5,38.5 L57.5,41.2"/>
<path transform="translate(566.2 500.7)" d="M16.2,9.0 L22.8,8.2 L25.5,12.5 L28.3,18.2 L24,20.2 L19.5,18.6 L17.2,15.5 L18.5,12.5 Z" fill="#9a9a9a" stroke-width="1"/>
<path transform="translate(636.8 500.7)" d="M0,7.5 L3,4.5 L5.6,2.5 L10.6,1.9 M15.6,0 L11.2,4.4 M10.6,2.2 L13,6.5 L16.9,9.4 L21.9,13.1 M0.6,14.4 L8,14.4 L13.1,15 L21.9,16.9 M26.9,18.1 L31,18.3 L35.6,19.4 L41,23 L45.6,26.9 L48,30 L50.6,31.9 L53.1,33.1 M53.1,33.1 L55.5,31 L58.1,30 L63,29.6 L66.9,30 L69.5,31.5 L71.9,33.1 M53.1,34.4 L47,35.6 L40.6,38.1 L36,40.5 L31.9,41.9 M54.4,35.6 L55.5,38.5 L57.5,41.2"/>
<path transform="translate(636.8 500.7)" d="M16.2,9.0 L22.8,8.2 L25.5,12.5 L28.3,18.2 L24,20.2 L19.5,18.6 L17.2,15.5 L18.5,12.5 Z" fill="#9a9a9a" stroke-width="1"/>
<path transform="translate(707.4 500.7)" d="M0,7.5 L3,4.5 L5.6,2.5 L10.6,1.9 M15.6,0 L11.2,4.4 M10.6,2.2 L13,6.5 L16.9,9.4 L21.9,13.1 M0.6,14.4 L8,14.4 L13.1,15 L21.9,16.9 M26.9,18.1 L31,18.3 L35.6,19.4 L41,23 L45.6,26.9 L48,30 L50.6,31.9 L53.1,33.1 M53.1,33.1 L55.5,31 L58.1,30 L63,29.6 L66.9,30 L69.5,31.5 L71.9,33.1 M53.1,34.4 L47,35.6 L40.6,38.1 L36,40.5 L31.9,41.9 M54.4,35.6 L55.5,38.5 L57.5,41.2"/>
<path transform="translate(707.4 500.7)" d="M16.2,9.0 L22.8,8.2 L25.5,12.5 L28.3,18.2 L24,20.2 L19.5,18.6 L17.2,15.5 L18.5,12.5 Z" fill="#9a9a9a" stroke-width="1"/>
<path transform="translate(778 500.7)" d="M0,7.5 L3,4.5 L5.6,2.5 L10.6,1.9 M15.6,0 L11.2,4.4 M10.6,2.2 L13,6.5 L16.9,9.4 L21.9,13.1 M0.6,14.4 L8,14.4 L13.1,15 L21.9,16.9 M26.9,18.1 L31,18.3 L35.6,19.4 L41,23 L45.6,26.9 L48,30 L50.6,31.9 L53.1,33.1 M53.1,33.1 L55.5,31 L58.1,30 L63,29.6 L66.9,30 L69.5,31.5 L71.9,33.1 M53.1,34.4 L47,35.6 L40.6,38.1 L36,40.5 L31.9,41.9 M54.4,35.6 L55.5,38.5 L57.5,41.2"/>
<path transform="translate(778 500.7)" d="M16.2,9.0 L22.8,8.2 L25.5,12.5 L28.3,18.2 L24,20.2 L19.5,18.6 L17.2,15.5 L18.5,12.5 Z" fill="#9a9a9a" stroke-width="1"/>
</g>
<line x1="136" y1="201" x2="1083.75" y2="201" stroke="#e41216" stroke-width="2.6" />
<line x1="136" y1="706.7" x2="1083.75" y2="706.7" stroke="#e41216" stroke-width="2.6" />
<line x1="136" y1="213.3" x2="918" y2="213.3" stroke="#e41216" stroke-width="6.7" />
<line x1="136" y1="213.3" x2="918" y2="213.3" stroke="#b20a0e" stroke-width="1.7" />
<line x1="992" y1="213.3" x2="1083.75" y2="213.3" stroke="#e41216" stroke-width="6.7" />
<line x1="992" y1="213.3" x2="1083.75" y2="213.3" stroke="#b20a0e" stroke-width="1.7" />
<rect x="137.2" y="201" width="7" height="505.7" fill="#d0181e"/>
<rect x="324.4" y="201" width="13.3" height="505.7" fill="#d0181e"/>
<rect x="819.2" y="201" width="13.3" height="505.7" fill="#d0181e"/>
<line x1="914.4" y1="201" x2="914.4" y2="706.7" stroke="#e41216" stroke-width="3.3" />
<line x1="920.9" y1="201" x2="920.9" y2="706.7" stroke="#d82a18" stroke-width="3" />
<line x1="917.7" y1="201" x2="917.7" y2="706.7" stroke="#5a1418" stroke-width="3.2" />
<rect x="988.4" y="201" width="7" height="505.7" fill="#d0181e"/>
<rect x="1074.8" y="201" width="7.2" height="505.7" fill="#d0181e"/>
<line x1="331.2" y1="201" x2="331.2" y2="706.7" stroke="#dc3236" stroke-width="2.2" />
<line x1="823.4" y1="201" x2="823.4" y2="706.7" stroke="#a81016" stroke-width="1.7" />
<line x1="828.4" y1="201" x2="828.4" y2="706.7" stroke="#dc3236" stroke-width="2" />
<rect x="427.6" y="213" width="8.8" height="187" fill="#d0181e"/>
<rect x="624" y="213" width="8.8" height="187" fill="#d0181e"/>
<rect x="480.6" y="530" width="8.2" height="176.7" fill="#d0181e"/>
<rect x="651.4" y="530" width="6.2" height="176.7" fill="#d0181e"/>
<line x1="144" y1="309.2" x2="326" y2="309.2" stroke="#e41216" stroke-width="6.5" />
<line x1="144" y1="309.2" x2="326" y2="309.2" stroke="#b20a0e" stroke-width="1.7" />
<line x1="832" y1="309.2" x2="914" y2="309.2" stroke="#e41216" stroke-width="6.5" />
<line x1="832" y1="309.2" x2="914" y2="309.2" stroke="#b20a0e" stroke-width="1.7" />
<line x1="995" y1="309.2" x2="1075" y2="309.2" stroke="#e41216" stroke-width="6.5" />
<line x1="995" y1="309.2" x2="1075" y2="309.2" stroke="#b20a0e" stroke-width="1.7" />
<line x1="144" y1="405.6" x2="326" y2="405.6" stroke="#e41216" stroke-width="6.5" />
<line x1="144" y1="405.6" x2="326" y2="405.6" stroke="#b20a0e" stroke-width="1.7" />
<line x1="832" y1="405.6" x2="914" y2="405.6" stroke="#e41216" stroke-width="6.5" />
<line x1="832" y1="405.6" x2="914" y2="405.6" stroke="#b20a0e" stroke-width="1.7" />
<line x1="995" y1="405.6" x2="1075" y2="405.6" stroke="#e41216" stroke-width="6.5" />
<line x1="995" y1="405.6" x2="1075" y2="405.6" stroke="#b20a0e" stroke-width="1.7" />
<line x1="144" y1="501.6" x2="326" y2="501.6" stroke="#e41216" stroke-width="6.5" />
<line x1="144" y1="501.6" x2="326" y2="501.6" stroke="#b20a0e" stroke-width="1.7" />
<line x1="832" y1="501.6" x2="914" y2="501.6" stroke="#e41216" stroke-width="6.5" />
<line x1="832" y1="501.6" x2="914" y2="501.6" stroke="#b20a0e" stroke-width="1.7" />
<line x1="995" y1="501.6" x2="1075" y2="501.6" stroke="#e41216" stroke-width="6.5" />
<line x1="995" y1="501.6" x2="1075" y2="501.6" stroke="#b20a0e" stroke-width="1.7" />
<line x1="144" y1="597.6" x2="326" y2="597.6" stroke="#e41216" stroke-width="6.5" />
<line x1="144" y1="597.6" x2="326" y2="597.6" stroke="#b20a0e" stroke-width="1.7" />
<line x1="832" y1="597.6" x2="914" y2="597.6" stroke="#e41216" stroke-width="6.5" />
<line x1="832" y1="597.6" x2="914" y2="597.6" stroke="#b20a0e" stroke-width="1.7" />
<line x1="995" y1="597.6" x2="1075" y2="597.6" stroke="#e41216" stroke-width="6.5" />
<line x1="995" y1="597.6" x2="1075" y2="597.6" stroke="#b20a0e" stroke-width="1.7" />
<line x1="144" y1="692.6" x2="326" y2="692.6" stroke="#e41216" stroke-width="6.5" />
<line x1="144" y1="692.6" x2="326" y2="692.6" stroke="#b20a0e" stroke-width="1.7" />
<line x1="832" y1="692.6" x2="914" y2="692.6" stroke="#e41216" stroke-width="6.5" />
<line x1="832" y1="692.6" x2="914" y2="692.6" stroke="#b20a0e" stroke-width="1.7" />
<line x1="995" y1="692.6" x2="1075" y2="692.6" stroke="#e41216" stroke-width="6.5" />
<line x1="995" y1="692.6" x2="1075" y2="692.6" stroke="#b20a0e" stroke-width="1.7" />
<line x1="337" y1="305.7" x2="821" y2="305.7" stroke="#e41216" stroke-width="6.9" />
<line x1="337" y1="305.7" x2="821" y2="305.7" stroke="#b20a0e" stroke-width="1.7" />
<line x1="337" y1="398.2" x2="821" y2="398.2" stroke="#e41216" stroke-width="6.9" />
<line x1="337" y1="398.2" x2="821" y2="398.2" stroke="#b20a0e" stroke-width="1.7" />
<line x1="337" y1="530.6" x2="821" y2="530.6" stroke="#e41216" stroke-width="5.5" />
<line x1="488" y1="612.5" x2="821" y2="612.5" stroke="#e41216" stroke-width="7.1" />
<line x1="488" y1="612.5" x2="821" y2="612.5" stroke="#b20a0e" stroke-width="1.7" />
<line x1="488" y1="692.6" x2="821" y2="692.6" stroke="#e41216" stroke-width="6.5" />
<line x1="488" y1="692.6" x2="821" y2="692.6" stroke="#b20a0e" stroke-width="1.7" />
<line x1="337" y1="700.4" x2="481" y2="700.4" stroke="#e41216" stroke-width="5.5" />
<line x1="834" y1="217" x2="913" y2="305" stroke="#e41216" stroke-width="1.3" />
<line x1="913" y1="217" x2="834" y2="305" stroke="#e41216" stroke-width="1.3" />
<line x1="924.4" y1="200.5" x2="924.4" y2="707.7" stroke="#19e619" stroke-width="3" />
<line x1="986" y1="200.5" x2="986" y2="707.7" stroke="#19e619" stroke-width="3" />
<line x1="922" y1="201.8" x2="988" y2="201.8" stroke="#19e619" stroke-width="3.4" />
<line x1="923" y1="321.3" x2="987" y2="321.3" stroke="#19e619" stroke-width="3" />
<line x1="923" y1="324.7" x2="987" y2="324.7" stroke="#19e619" stroke-width="1.2" />
<line x1="923" y1="390" x2="987" y2="390" stroke="#19e619" stroke-width="3" />
<line x1="923" y1="393.4" x2="987" y2="393.4" stroke="#19e619" stroke-width="1.2" />
<line x1="923" y1="524.6" x2="987" y2="524.6" stroke="#19e619" stroke-width="3" />
<line x1="923" y1="528" x2="987" y2="528" stroke="#19e619" stroke-width="1.2" />
<line x1="923" y1="573.7" x2="987" y2="573.7" stroke="#19e619" stroke-width="3" />
<line x1="923" y1="577.1" x2="987" y2="577.1" stroke="#19e619" stroke-width="1.2" />
<line x1="922" y1="699.2" x2="988" y2="699.2" stroke="#19e619" stroke-width="1.8" />
<line x1="922" y1="702" x2="988" y2="702" stroke="#19e619" stroke-width="1.8" />
<line x1="922" y1="704.8" x2="988" y2="704.8" stroke="#19e619" stroke-width="1.8" />
<line x1="922" y1="707.4" x2="988" y2="707.4" stroke="#19e619" stroke-width="1.8" />
<line x1="928" y1="207" x2="983" y2="207" stroke="#ffff00" stroke-width="2.6" stroke-dasharray="2.6 2.4"/>
<line x1="928" y1="325.8" x2="983" y2="325.8" stroke="#ffff00" stroke-width="2.6" stroke-dasharray="2.6 2.4"/>
<line x1="928" y1="394.5" x2="983" y2="394.5" stroke="#ffff00" stroke-width="2.6" stroke-dasharray="2.6 2.4"/>
<line x1="928" y1="529.1" x2="983" y2="529.1" stroke="#ffff00" stroke-width="2.6" stroke-dasharray="2.6 2.4"/>
<line x1="928" y1="578.2" x2="983" y2="578.2" stroke="#ffff00" stroke-width="2.6" stroke-dasharray="2.6 2.4"/>
<rect x="334.6" y="403.6" width="491.4" height="120.4" fill="none" stroke="#ffff00" stroke-width="2.6" />
<line x1="340" y1="411.2" x2="812.5" y2="411.2" stroke="#ffff00" stroke-width="2.3" stroke-dasharray="2.6 2.4"/>
<rect x="332.6" y="527.2" width="493.4" height="14" fill="none" stroke="#12e6ee" stroke-width="2.6" stroke-dasharray="3.2 2.8"/>
<rect x="332.6" y="582.2" width="152.4" height="15.8" fill="none" stroke="#12e6ee" stroke-width="2.6" stroke-dasharray="3.2 2.8"/>
<rect x="332.6" y="640.8" width="152.4" height="14.8" fill="none" stroke="#12e6ee" stroke-width="2.6" stroke-dasharray="3.2 2.8"/>
<line x1="135.6" y1="200" x2="135.6" y2="707.7" stroke="#ffffff" stroke-width="2" />
<line x1="1083.6" y1="200" x2="1083.6" y2="707.7" stroke="#ffffff" stroke-width="2" />
</g>
<g id="edims">
<line x1="331" y1="184.6" x2="826.5" y2="184.6" stroke="#ffffff" stroke-width="1.75" />
<rect x="322.6" y="182.6" width="22.8" height="4" fill="#212830"/>
<rect x="367.9" y="182.6" width="29.7" height="4" fill="#212830"/>
<rect x="420.73" y="182.6" width="22.8" height="4" fill="#212830"/>
<rect x="515.45" y="182.6" width="29.7" height="4" fill="#212830"/>
<rect x="617.08" y="182.6" width="22.8" height="4" fill="#212830"/>
<rect x="711.46" y="182.6" width="29.7" height="4" fill="#212830"/>
<rect x="812.1" y="182.6" width="22.8" height="4" fill="#212830"/>
<text transform="translate(334 184.1) scale(0.485 1)" text-anchor="middle" font-size="28.5" fill="#ffffff" class="d">18</text>
<text transform="translate(382.75 184.1) scale(0.485 1)" text-anchor="middle" font-size="28.5" fill="#ffffff" class="d">450</text>
<text transform="translate(432.13 184.1) scale(0.485 1)" text-anchor="middle" font-size="28.5" fill="#ffffff" class="d">36</text>
<text transform="translate(530.3 184.1) scale(0.485 1)" text-anchor="middle" font-size="28.5" fill="#ffffff" class="d">936</text>
<text transform="translate(628.48 184.1) scale(0.485 1)" text-anchor="middle" font-size="28.5" fill="#ffffff" class="d">36</text>
<text transform="translate(726.31 184.1) scale(0.485 1)" text-anchor="middle" font-size="28.5" fill="#ffffff" class="d">936</text>
<text transform="translate(823.5 184.1) scale(0.485 1)" text-anchor="middle" font-size="28.5" fill="#ffffff" class="d">18</text>
<line x1="331" y1="188" x2="331" y2="196" stroke="#ffffff" stroke-width="1.4" />
<line x1="337" y1="188" x2="337" y2="196" stroke="#ffffff" stroke-width="1.4" />
<line x1="428.5" y1="188" x2="428.5" y2="196" stroke="#ffffff" stroke-width="1.4" />
<line x1="435.77" y1="188" x2="435.77" y2="196" stroke="#ffffff" stroke-width="1.4" />
<line x1="624.84" y1="188" x2="624.84" y2="196" stroke="#ffffff" stroke-width="1.4" />
<line x1="632.11" y1="188" x2="632.11" y2="196" stroke="#ffffff" stroke-width="1.4" />
<line x1="820.5" y1="188" x2="820.5" y2="196" stroke="#ffffff" stroke-width="1.4" />
<line x1="826.5" y1="188" x2="826.5" y2="196" stroke="#ffffff" stroke-width="1.4" />
<line x1="331" y1="157.3" x2="826.5" y2="157.3" stroke="#ffffff" stroke-width="1.75" />
<rect x="560.45" y="155.3" width="36.6" height="4" fill="#212830"/>
<text transform="translate(578.75 156.8) scale(0.485 1)" text-anchor="middle" font-size="28.5" fill="#ffffff" class="d">2430</text>
<line x1="327" y1="161.3" x2="335" y2="153.3" stroke="#ffffff" stroke-width="1.3" />
<line x1="822.5" y1="161.3" x2="830.5" y2="153.3" stroke="#ffffff" stroke-width="1.3" />
<line x1="331" y1="153" x2="331" y2="186" stroke="#ffffff" stroke-width="1.3" />
<line x1="826.5" y1="153" x2="826.5" y2="186" stroke="#ffffff" stroke-width="1.3" />
<line x1="136" y1="738" x2="1083.78" y2="738" stroke="#ffffff" stroke-width="1.75" />
<rect x="128.24" y="736" width="22.8" height="4" fill="#212830"/>
<rect x="220.13" y="736" width="29.7" height="4" fill="#212830"/>
<rect x="320.74" y="736" width="22.8" height="4" fill="#212830"/>
<rect x="394.86" y="736" width="29.7" height="4" fill="#212830"/>
<rect x="474.06" y="736" width="22.8" height="4" fill="#212830"/>
<rect x="556.36" y="736" width="29.7" height="4" fill="#212830"/>
<rect x="643.74" y="736" width="22.8" height="4" fill="#212830"/>
<rect x="724.22" y="736" width="29.7" height="4" fill="#212830"/>
<rect x="815.24" y="736" width="22.8" height="4" fill="#212830"/>
<rect x="859.06" y="736" width="29.7" height="4" fill="#212830"/>
<rect x="907.96" y="736" width="22.8" height="4" fill="#212830"/>
<rect x="939.45" y="736" width="29.7" height="4" fill="#212830"/>
<rect x="977.85" y="736" width="22.8" height="4" fill="#212830"/>
<rect x="1019.85" y="736" width="29.7" height="4" fill="#212830"/>
<rect x="1068.75" y="736" width="22.8" height="4" fill="#212830"/>
<text transform="translate(139.64 737.5) scale(0.485 1)" text-anchor="middle" font-size="28.5" fill="#ffffff" class="d">36</text>
<text transform="translate(234.98 737.5) scale(0.485 1)" text-anchor="middle" font-size="28.5" fill="#ffffff" class="d">908</text>
<text transform="translate(332.14 737.5) scale(0.485 1)" text-anchor="middle" font-size="28.5" fill="#ffffff" class="d">54</text>
<text transform="translate(409.71 737.5) scale(0.485 1)" text-anchor="middle" font-size="28.5" fill="#ffffff" class="d">714</text>
<text transform="translate(485.46 737.5) scale(0.485 1)" text-anchor="middle" font-size="28.5" fill="#ffffff" class="d">36</text>
<text transform="translate(571.21 737.5) scale(0.485 1)" text-anchor="middle" font-size="28.5" fill="#ffffff" class="d">813</text>
<text transform="translate(655.14 737.5) scale(0.485 1)" text-anchor="middle" font-size="28.5" fill="#ffffff" class="d">18</text>
<text transform="translate(739.07 737.5) scale(0.485 1)" text-anchor="middle" font-size="28.5" fill="#ffffff" class="d">813</text>
<text transform="translate(826.64 737.5) scale(0.485 1)" text-anchor="middle" font-size="28.5" fill="#ffffff" class="d">54</text>
<text transform="translate(873.91 737.5) scale(0.485 1)" text-anchor="middle" font-size="28.5" fill="#ffffff" class="d">414</text>
<text transform="translate(919.36 737.5) scale(0.485 1)" text-anchor="middle" font-size="28.5" fill="#ffffff" class="d">36</text>
<text transform="translate(954.3 737.5) scale(0.485 1)" text-anchor="middle" font-size="28.5" fill="#ffffff" class="d">310</text>
<text transform="translate(989.25 737.5) scale(0.485 1)" text-anchor="middle" font-size="28.5" fill="#ffffff" class="d">36</text>
<text transform="translate(1034.7 737.5) scale(0.485 1)" text-anchor="middle" font-size="28.5" fill="#ffffff" class="d">414</text>
<text transform="translate(1080.15 737.5) scale(0.485 1)" text-anchor="middle" font-size="28.5" fill="#ffffff" class="d">36</text>
<line x1="133.4" y1="740.6" x2="138.6" y2="735.4" stroke="#ffffff" stroke-width="1.3" />
<line x1="140.67" y1="740.6" x2="145.87" y2="735.4" stroke="#ffffff" stroke-width="1.3" />
<line x1="324.09" y1="740.6" x2="329.29" y2="735.4" stroke="#ffffff" stroke-width="1.3" />
<line x1="335" y1="740.6" x2="340.2" y2="735.4" stroke="#ffffff" stroke-width="1.3" />
<line x1="479.22" y1="740.6" x2="484.42" y2="735.4" stroke="#ffffff" stroke-width="1.3" />
<line x1="486.5" y1="740.6" x2="491.7" y2="735.4" stroke="#ffffff" stroke-width="1.3" />
<line x1="650.72" y1="740.6" x2="655.92" y2="735.4" stroke="#ffffff" stroke-width="1.3" />
<line x1="654.36" y1="740.6" x2="659.56" y2="735.4" stroke="#ffffff" stroke-width="1.3" />
<line x1="818.58" y1="740.6" x2="823.78" y2="735.4" stroke="#ffffff" stroke-width="1.3" />
<line x1="829.49" y1="740.6" x2="834.69" y2="735.4" stroke="#ffffff" stroke-width="1.3" />
<line x1="913.12" y1="740.6" x2="918.32" y2="735.4" stroke="#ffffff" stroke-width="1.3" />
<line x1="920.39" y1="740.6" x2="925.59" y2="735.4" stroke="#ffffff" stroke-width="1.3" />
<line x1="983.01" y1="740.6" x2="988.21" y2="735.4" stroke="#ffffff" stroke-width="1.3" />
<line x1="990.28" y1="740.6" x2="995.48" y2="735.4" stroke="#ffffff" stroke-width="1.3" />
<line x1="1073.91" y1="740.6" x2="1079.11" y2="735.4" stroke="#ffffff" stroke-width="1.3" />
<line x1="1081.18" y1="740.6" x2="1086.38" y2="735.4" stroke="#ffffff" stroke-width="1.3" />
<line x1="133.5" y1="778.8" x2="1084.5" y2="778.8" stroke="#ffffff" stroke-width="1.75" />
<rect x="590.7" y="776.8" width="36.6" height="4" fill="#212830"/>
<text transform="translate(609 778.3) scale(0.485 1)" text-anchor="middle" font-size="28.5" fill="#ffffff" class="d">4692</text>
<line x1="129.5" y1="782.8" x2="137.5" y2="774.8" stroke="#ffffff" stroke-width="1.3" />
<line x1="1080.5" y1="782.8" x2="1088.5" y2="774.8" stroke="#ffffff" stroke-width="1.3" />
<line x1="133.5" y1="770" x2="133.5" y2="782" stroke="#ffffff" stroke-width="1.3" />
<line x1="1084.5" y1="770" x2="1084.5" y2="782" stroke="#ffffff" stroke-width="1.3" />
<line x1="104" y1="201" x2="104" y2="706.6" stroke="#ffffff" stroke-width="1.75" />
<rect x="102" y="197.5" width="4" height="22.8" fill="#212830"/>
<rect x="102" y="245" width="4" height="29.7" fill="#212830"/>
<rect x="102" y="301.3" width="4" height="22.8" fill="#212830"/>
<rect x="102" y="340.85" width="4" height="29.7" fill="#212830"/>
<rect x="102" y="397.3" width="4" height="22.8" fill="#212830"/>
<rect x="102" y="436.85" width="4" height="29.7" fill="#212830"/>
<rect x="102" y="493.3" width="4" height="22.8" fill="#212830"/>
<rect x="102" y="532.8" width="4" height="29.7" fill="#212830"/>
<rect x="102" y="589.25" width="4" height="22.8" fill="#212830"/>
<rect x="102" y="629.2" width="4" height="29.7" fill="#212830"/>
<rect x="102" y="688.2" width="4" height="22.8" fill="#212830"/>
<text transform="translate(103.5 208.9) rotate(-90) scale(0.485 1)" text-anchor="middle" font-size="28.5" fill="#ffffff" class="d">60</text>
<text transform="translate(103.5 259.85) rotate(-90) scale(0.485 1)" text-anchor="middle" font-size="28.5" fill="#ffffff" class="d">458</text>
<text transform="translate(103.5 312.7) rotate(-90) scale(0.485 1)" text-anchor="middle" font-size="28.5" fill="#ffffff" class="d">18</text>
<text transform="translate(103.5 355.7) rotate(-90) scale(0.485 1)" text-anchor="middle" font-size="28.5" fill="#ffffff" class="d">456</text>
<text transform="translate(103.5 408.7) rotate(-90) scale(0.485 1)" text-anchor="middle" font-size="28.5" fill="#ffffff" class="d">18</text>
<text transform="translate(103.5 451.7) rotate(-90) scale(0.485 1)" text-anchor="middle" font-size="28.5" fill="#ffffff" class="d">456</text>
<text transform="translate(103.5 504.7) rotate(-90) scale(0.485 1)" text-anchor="middle" font-size="28.5" fill="#ffffff" class="d">18</text>
<text transform="translate(103.5 547.65) rotate(-90) scale(0.485 1)" text-anchor="middle" font-size="28.5" fill="#ffffff" class="d">456</text>
<text transform="translate(103.5 600.65) rotate(-90) scale(0.485 1)" text-anchor="middle" font-size="28.5" fill="#ffffff" class="d">18</text>
<text transform="translate(103.5 644.05) rotate(-90) scale(0.485 1)" text-anchor="middle" font-size="28.5" fill="#ffffff" class="d">456</text>
<text transform="translate(103.5 699.6) rotate(-90) scale(0.485 1)" text-anchor="middle" font-size="28.5" fill="#ffffff" class="d">76</text>
<line x1="108" y1="201" x2="122" y2="201" stroke="#ffffff" stroke-width="1.4" />
<line x1="108" y1="213.8" x2="122" y2="213.8" stroke="#ffffff" stroke-width="1.4" />
<line x1="108" y1="305.9" x2="122" y2="305.9" stroke="#ffffff" stroke-width="1.4" />
<line x1="108" y1="309.5" x2="122" y2="309.5" stroke="#ffffff" stroke-width="1.4" />
<line x1="108" y1="401.9" x2="122" y2="401.9" stroke="#ffffff" stroke-width="1.4" />
<line x1="108" y1="405.5" x2="122" y2="405.5" stroke="#ffffff" stroke-width="1.4" />
<line x1="108" y1="497.9" x2="122" y2="497.9" stroke="#ffffff" stroke-width="1.4" />
<line x1="108" y1="501.5" x2="122" y2="501.5" stroke="#ffffff" stroke-width="1.4" />
<line x1="108" y1="593.8" x2="122" y2="593.8" stroke="#ffffff" stroke-width="1.4" />
<line x1="108" y1="597.5" x2="122" y2="597.5" stroke="#ffffff" stroke-width="1.4" />
<line x1="108" y1="690.6" x2="122" y2="690.6" stroke="#ffffff" stroke-width="1.4" />
<line x1="108" y1="706.6" x2="122" y2="706.6" stroke="#ffffff" stroke-width="1.4" />
<line x1="1122" y1="201" x2="1122" y2="706.6" stroke="#ffffff" stroke-width="1.75" />
<rect x="1120" y="196" width="4" height="22.8" fill="#212830"/>
<rect x="1120" y="245" width="4" height="29.7" fill="#212830"/>
<rect x="1120" y="296.3" width="4" height="22.8" fill="#212830"/>
<rect x="1120" y="340.85" width="4" height="29.7" fill="#212830"/>
<rect x="1120" y="392.3" width="4" height="22.8" fill="#212830"/>
<rect x="1120" y="436.85" width="4" height="29.7" fill="#212830"/>
<rect x="1120" y="488.3" width="4" height="22.8" fill="#212830"/>
<rect x="1120" y="532.8" width="4" height="29.7" fill="#212830"/>
<rect x="1120" y="584.25" width="4" height="22.8" fill="#212830"/>
<rect x="1120" y="629.2" width="4" height="29.7" fill="#212830"/>
<rect x="1120" y="687.2" width="4" height="22.8" fill="#212830"/>
<text transform="translate(1121.5 207.4) rotate(-90) scale(0.485 1)" text-anchor="middle" font-size="28.5" fill="#ffffff" class="d">60</text>
<text transform="translate(1121.5 259.85) rotate(-90) scale(0.485 1)" text-anchor="middle" font-size="28.5" fill="#ffffff" class="d">458</text>
<text transform="translate(1121.5 307.7) rotate(-90) scale(0.485 1)" text-anchor="middle" font-size="28.5" fill="#ffffff" class="d">18</text>
<text transform="translate(1121.5 355.7) rotate(-90) scale(0.485 1)" text-anchor="middle" font-size="28.5" fill="#ffffff" class="d">456</text>
<text transform="translate(1121.5 403.7) rotate(-90) scale(0.485 1)" text-anchor="middle" font-size="28.5" fill="#ffffff" class="d">18</text>
<text transform="translate(1121.5 451.7) rotate(-90) scale(0.485 1)" text-anchor="middle" font-size="28.5" fill="#ffffff" class="d">456</text>
<text transform="translate(1121.5 499.7) rotate(-90) scale(0.485 1)" text-anchor="middle" font-size="28.5" fill="#ffffff" class="d">18</text>
<text transform="translate(1121.5 547.65) rotate(-90) scale(0.485 1)" text-anchor="middle" font-size="28.5" fill="#ffffff" class="d">456</text>
<text transform="translate(1121.5 595.65) rotate(-90) scale(0.485 1)" text-anchor="middle" font-size="28.5" fill="#ffffff" class="d">18</text>
<text transform="translate(1121.5 644.05) rotate(-90) scale(0.485 1)" text-anchor="middle" font-size="28.5" fill="#ffffff" class="d">456</text>
<text transform="translate(1121.5 698.6) rotate(-90) scale(0.485 1)" text-anchor="middle" font-size="28.5" fill="#ffffff" class="d">76</text>
<line x1="1119.4" y1="203.6" x2="1124.6" y2="198.4" stroke="#ffffff" stroke-width="1.3" />
<line x1="1119.4" y1="216.4" x2="1124.6" y2="211.2" stroke="#ffffff" stroke-width="1.3" />
<line x1="1119.4" y1="308.5" x2="1124.6" y2="303.3" stroke="#ffffff" stroke-width="1.3" />
<line x1="1119.4" y1="312.1" x2="1124.6" y2="306.9" stroke="#ffffff" stroke-width="1.3" />
<line x1="1119.4" y1="404.5" x2="1124.6" y2="399.3" stroke="#ffffff" stroke-width="1.3" />
<line x1="1119.4" y1="408.1" x2="1124.6" y2="402.9" stroke="#ffffff" stroke-width="1.3" />
<line x1="1119.4" y1="500.5" x2="1124.6" y2="495.3" stroke="#ffffff" stroke-width="1.3" />
<line x1="1119.4" y1="504.1" x2="1124.6" y2="498.9" stroke="#ffffff" stroke-width="1.3" />
<line x1="1119.4" y1="596.4" x2="1124.6" y2="591.2" stroke="#ffffff" stroke-width="1.3" />
<line x1="1119.4" y1="600.1" x2="1124.6" y2="594.9" stroke="#ffffff" stroke-width="1.3" />
<line x1="1119.4" y1="693.2" x2="1124.6" y2="688" stroke="#ffffff" stroke-width="1.3" />
<line x1="1119.4" y1="709.2" x2="1124.6" y2="704" stroke="#ffffff" stroke-width="1.3" />
<line x1="1149" y1="201" x2="1149" y2="706.6" stroke="#ffffff" stroke-width="1.75" />
<rect x="1147" y="435.5" width="4" height="36.6" fill="#212830"/>
<text transform="translate(1148.5 453.8) rotate(-90) scale(0.485 1)" text-anchor="middle" font-size="28.5" fill="#ffffff" class="d">2490</text>
<line x1="1145" y1="205" x2="1153" y2="197" stroke="#ffffff" stroke-width="1.3" />
<line x1="1145" y1="710.6" x2="1153" y2="702.6" stroke="#ffffff" stroke-width="1.3" />
<line x1="1136" y1="201" x2="1152" y2="201" stroke="#ffffff" stroke-width="1.3" />
<line x1="1136" y1="706.6" x2="1152" y2="706.6" stroke="#ffffff" stroke-width="1.3" />
<line x1="4.4" y1="199" x2="4.4" y2="433.6" stroke="#ffffff" stroke-width="1.7" />
<line x1="4.4" y1="473" x2="4.4" y2="707.5" stroke="#ffffff" stroke-width="1.7" />
<line x1="0.9" y1="204.5" x2="7.9" y2="197.5" stroke="#ffffff" stroke-width="1.3" />
<line x1="0.9" y1="710.1" x2="7.9" y2="703.1" stroke="#ffffff" stroke-width="1.3" />
<text transform="translate(4 453) rotate(-90) scale(0.485 1)" text-anchor="middle" font-size="28.5" fill="#ffffff" class="d">2490</text>
<line x1="777.5" y1="213.8" x2="777.5" y2="397.6" stroke="#ffffff" stroke-width="1.75" />
<rect x="775.5" y="244.25" width="4" height="30.6" fill="#212830"/>
<rect x="775.5" y="336.15" width="4" height="30.6" fill="#212830"/>
<text transform="translate(777 259.55) rotate(-90) scale(0.45 1)" text-anchor="middle" font-size="31" fill="#ffffff" class="d">450</text>
<text transform="translate(777 351.45) rotate(-90) scale(0.45 1)" text-anchor="middle" font-size="31" fill="#ffffff" class="d">450</text>
<line x1="777" y1="213.8" x2="786" y2="213.8" stroke="#ffffff" stroke-width="1.4" />
<line x1="777" y1="305.3" x2="786" y2="305.3" stroke="#ffffff" stroke-width="1.4" />
<line x1="777" y1="397.6" x2="786" y2="397.6" stroke="#ffffff" stroke-width="1.4" />
<line x1="777.5" y1="403.6" x2="777.5" y2="524" stroke="#ffffff" stroke-width="1.75" />
<rect x="775.5" y="448.95" width="4" height="29.7" fill="#212830"/>
<text transform="translate(777 463.8) rotate(-90) scale(0.44 1)" text-anchor="middle" font-size="31" fill="#ffffff" class="d">600</text>
<line x1="777" y1="403.6" x2="786" y2="403.6" stroke="#ffffff" stroke-width="1.4" />
<line x1="777" y1="524" x2="786" y2="524" stroke="#ffffff" stroke-width="1.4" />
<line x1="777.5" y1="531" x2="777.5" y2="692.4" stroke="#ffffff" stroke-width="1.75" />
<rect x="775.5" y="556.7" width="4" height="30" fill="#212830"/>
<rect x="775.5" y="637.4" width="4" height="30" fill="#212830"/>
<text transform="translate(777 571.7) rotate(-90) scale(0.45 1)" text-anchor="middle" font-size="31" fill="#ffffff" class="d">355</text>
<text transform="translate(777 652.4) rotate(-90) scale(0.45 1)" text-anchor="middle" font-size="31" fill="#ffffff" class="d">355</text>
<line x1="777" y1="531" x2="786" y2="531" stroke="#ffffff" stroke-width="1.4" />
<line x1="777" y1="612.4" x2="786" y2="612.4" stroke="#ffffff" stroke-width="1.4" />
<line x1="777" y1="692.4" x2="786" y2="692.4" stroke="#ffffff" stroke-width="1.4" />
<line x1="466.25" y1="541.2" x2="466.25" y2="582.2" stroke="#ffffff" stroke-width="1.75" />
<rect x="464.25" y="550.6" width="4" height="22.2" fill="#212830"/>
<text transform="translate(465.75 561.7) rotate(-90) scale(0.45 1)" text-anchor="middle" font-size="24" fill="#ffffff" class="d">207</text>
<line x1="464" y1="541.2" x2="472" y2="541.2" stroke="#ffffff" stroke-width="1.4" />
<line x1="464" y1="582.2" x2="472" y2="582.2" stroke="#ffffff" stroke-width="1.4" />
<line x1="466.25" y1="598" x2="466.25" y2="640.8" stroke="#ffffff" stroke-width="1.75" />
<rect x="464.25" y="608.3" width="4" height="22.2" fill="#212830"/>
<text transform="translate(465.75 619.4) rotate(-90) scale(0.45 1)" text-anchor="middle" font-size="24" fill="#ffffff" class="d">213</text>
<line x1="464" y1="598" x2="472" y2="598" stroke="#ffffff" stroke-width="1.4" />
<line x1="464" y1="640.8" x2="472" y2="640.8" stroke="#ffffff" stroke-width="1.4" />
<line x1="466.25" y1="655.6" x2="466.25" y2="700" stroke="#ffffff" stroke-width="1.75" />
<rect x="464.25" y="666.7" width="4" height="22.2" fill="#212830"/>
<text transform="translate(465.75 677.8) rotate(-90) scale(0.45 1)" text-anchor="middle" font-size="24" fill="#ffffff" class="d">219</text>
<line x1="464" y1="655.6" x2="472" y2="655.6" stroke="#ffffff" stroke-width="1.4" />
<line x1="464" y1="700" x2="472" y2="700" stroke="#ffffff" stroke-width="1.4" />
<line x1="959.4" y1="204" x2="959.4" y2="320.4" stroke="#ffffff" stroke-width="1.75" />
<rect x="957.4" y="247.35" width="4" height="29.7" fill="#212830"/>
<text transform="translate(956.9 262.2) rotate(-90) scale(0.485 1)" text-anchor="middle" font-size="28.5" fill="#ffffff" class="d">570</text>
<line x1="957" y1="204" x2="976" y2="204" stroke="#ffffff" stroke-width="1.4" />
<line x1="957" y1="320.4" x2="976" y2="320.4" stroke="#ffffff" stroke-width="1.4" />
<line x1="959.4" y1="324.2" x2="959.4" y2="389.1" stroke="#ffffff" stroke-width="1.75" />
<rect x="957.4" y="341.8" width="4" height="29.7" fill="#212830"/>
<text transform="translate(956.9 356.65) rotate(-90) scale(0.485 1)" text-anchor="middle" font-size="28.5" fill="#ffffff" class="d">325</text>
<line x1="957" y1="324.2" x2="976" y2="324.2" stroke="#ffffff" stroke-width="1.4" />
<line x1="957" y1="389.1" x2="976" y2="389.1" stroke="#ffffff" stroke-width="1.4" />
<line x1="959.4" y1="392.9" x2="959.4" y2="523.7" stroke="#ffffff" stroke-width="1.75" />
<rect x="957.4" y="443.45" width="4" height="29.7" fill="#212830"/>
<text transform="translate(956.9 458.3) rotate(-90) scale(0.485 1)" text-anchor="middle" font-size="28.5" fill="#ffffff" class="d">650</text>
<line x1="957" y1="392.9" x2="976" y2="392.9" stroke="#ffffff" stroke-width="1.4" />
<line x1="957" y1="523.7" x2="976" y2="523.7" stroke="#ffffff" stroke-width="1.4" />
<line x1="959.4" y1="527.5" x2="959.4" y2="572.8" stroke="#ffffff" stroke-width="1.75" />
<rect x="957.4" y="535.3" width="4" height="29.7" fill="#212830"/>
<text transform="translate(956.9 550.15) rotate(-90) scale(0.485 1)" text-anchor="middle" font-size="28.5" fill="#ffffff" class="d">220</text>
<line x1="957" y1="527.5" x2="976" y2="527.5" stroke="#ffffff" stroke-width="1.4" />
<line x1="957" y1="572.8" x2="976" y2="572.8" stroke="#ffffff" stroke-width="1.4" />
<line x1="959.4" y1="576.6" x2="959.4" y2="697" stroke="#ffffff" stroke-width="1.75" />
<rect x="957.4" y="621.95" width="4" height="29.7" fill="#212830"/>
<text transform="translate(956.9 636.8) rotate(-90) scale(0.485 1)" text-anchor="middle" font-size="28.5" fill="#ffffff" class="d">590</text>
<line x1="957" y1="576.6" x2="976" y2="576.6" stroke="#ffffff" stroke-width="1.4" />
<line x1="957" y1="697" x2="976" y2="697" stroke="#ffffff" stroke-width="1.4" />
</g>
<g id="plan">
<clipPath id="wc"><path d="M29.6,981.7 L1110.3,981.7 L1110.3,1151 L1085.7,1151 L1085.7,1012.5 L134,1012.5 L134,1034.6 L77.2,1034.6 L77.2,1153.7 L29.6,1153.7 Z"/></clipPath>
<g clip-path="url(#wc)">
<line x1="-178.6" y1="1160" x2="6.4" y2="975" stroke="#7c7c7c" stroke-width="1.35" />
<line x1="-135.65" y1="1160" x2="49.35" y2="975" stroke="#7c7c7c" stroke-width="1.35" />
<line x1="-92.7" y1="1160" x2="92.3" y2="975" stroke="#7c7c7c" stroke-width="1.35" />
<line x1="-49.75" y1="1160" x2="135.25" y2="975" stroke="#7c7c7c" stroke-width="1.35" />
<line x1="-6.8" y1="1160" x2="178.2" y2="975" stroke="#7c7c7c" stroke-width="1.35" />
<line x1="36.15" y1="1160" x2="221.15" y2="975" stroke="#7c7c7c" stroke-width="1.35" />
<line x1="79.1" y1="1160" x2="264.1" y2="975" stroke="#7c7c7c" stroke-width="1.35" />
<line x1="122.05" y1="1160" x2="307.05" y2="975" stroke="#7c7c7c" stroke-width="1.35" />
<line x1="165" y1="1160" x2="350" y2="975" stroke="#7c7c7c" stroke-width="1.35" />
<line x1="207.95" y1="1160" x2="392.95" y2="975" stroke="#7c7c7c" stroke-width="1.35" />
<line x1="250.9" y1="1160" x2="435.9" y2="975" stroke="#7c7c7c" stroke-width="1.35" />
<line x1="293.85" y1="1160" x2="478.85" y2="975" stroke="#7c7c7c" stroke-width="1.35" />
<line x1="336.8" y1="1160" x2="521.8" y2="975" stroke="#7c7c7c" stroke-width="1.35" />
<line x1="379.75" y1="1160" x2="564.75" y2="975" stroke="#7c7c7c" stroke-width="1.35" />
<line x1="422.7" y1="1160" x2="607.7" y2="975" stroke="#7c7c7c" stroke-width="1.35" />
<line x1="465.65" y1="1160" x2="650.65" y2="975" stroke="#7c7c7c" stroke-width="1.35" />
<line x1="508.6" y1="1160" x2="693.6" y2="975" stroke="#7c7c7c" stroke-width="1.35" />
<line x1="551.55" y1="1160" x2="736.55" y2="975" stroke="#7c7c7c" stroke-width="1.35" />
<line x1="594.5" y1="1160" x2="779.5" y2="975" stroke="#7c7c7c" stroke-width="1.35" />
<line x1="637.45" y1="1160" x2="822.45" y2="975" stroke="#7c7c7c" stroke-width="1.35" />
<line x1="680.4" y1="1160" x2="865.4" y2="975" stroke="#7c7c7c" stroke-width="1.35" />
<line x1="723.35" y1="1160" x2="908.35" y2="975" stroke="#7c7c7c" stroke-width="1.35" />
<line x1="766.3" y1="1160" x2="951.3" y2="975" stroke="#7c7c7c" stroke-width="1.35" />
<line x1="809.25" y1="1160" x2="994.25" y2="975" stroke="#7c7c7c" stroke-width="1.35" />
<line x1="852.2" y1="1160" x2="1037.2" y2="975" stroke="#7c7c7c" stroke-width="1.35" />
<line x1="895.15" y1="1160" x2="1080.15" y2="975" stroke="#7c7c7c" stroke-width="1.35" />
<line x1="938.1" y1="1160" x2="1123.1" y2="975" stroke="#7c7c7c" stroke-width="1.35" />
<line x1="981.05" y1="1160" x2="1166.05" y2="975" stroke="#7c7c7c" stroke-width="1.35" />
<line x1="1024" y1="1160" x2="1209" y2="975" stroke="#7c7c7c" stroke-width="1.35" />
<line x1="1066.95" y1="1160" x2="1251.95" y2="975" stroke="#7c7c7c" stroke-width="1.35" />
<line x1="1109.9" y1="1160" x2="1294.9" y2="975" stroke="#7c7c7c" stroke-width="1.35" />
<circle cx="379.74" cy="1007.8" r="0.86" fill="#9a9a9a"/>
<circle cx="424.94" cy="991.92" r="0.8" fill="#9a9a9a"/>
<circle cx="70.5" cy="1056.15" r="0.63" fill="#9a9a9a"/>
<circle cx="923" cy="1003.17" r="0.69" fill="#9a9a9a"/>
<circle cx="1084.36" cy="989.97" r="0.94" fill="#9a9a9a"/>
<path d="M344.72,1008.09 L340.27,1007.31 L343.34,1004.61 Z" fill="#7d7d7d" stroke="#838383" stroke-width="0.8"/>
<circle cx="97.81" cy="992.19" r="0.68" fill="#9a9a9a"/>
<circle cx="1088.59" cy="1002.19" r="0.77" fill="#9a9a9a"/>
<circle cx="847.71" cy="1007.99" r="0.8" fill="#9a9a9a"/>
<circle cx="72.34" cy="1096.26" r="0.91" fill="#9a9a9a"/>
<circle cx="747.28" cy="992.37" r="0.88" fill="#9a9a9a"/>
<path d="M55.53,1062.6 L52,1060.94 L55.56,1059.32 Z" fill="#7d7d7d" stroke="#838383" stroke-width="0.8"/>
<circle cx="1064.35" cy="1007.81" r="0.67" fill="#9a9a9a"/>
<circle cx="460.9" cy="999.7" r="0.85" fill="#9a9a9a"/>
<circle cx="97.23" cy="993.52" r="0.68" fill="#9a9a9a"/>
<circle cx="193.37" cy="999.35" r="0.75" fill="#9a9a9a"/>
<circle cx="57.54" cy="1131.51" r="0.85" fill="#9a9a9a"/>
<path d="M1100.24,1061.88 L1103.5,1059.99 L1103.91,1063.19 Z" fill="#7d7d7d" stroke="#838383" stroke-width="0.8"/>
<circle cx="204.35" cy="985.95" r="0.98" fill="#9a9a9a"/>
<circle cx="600.52" cy="1007.07" r="0.82" fill="#9a9a9a"/>
<circle cx="59.21" cy="1072.31" r="0.99" fill="#9a9a9a"/>
<circle cx="414.01" cy="986.96" r="0.61" fill="#9a9a9a"/>
<circle cx="1097.08" cy="1145.31" r="0.75" fill="#9a9a9a"/>
<path d="M169.95,1006.34 L167.46,1010.5 L164.2,1006.7 Z" fill="#7d7d7d" stroke="#838383" stroke-width="0.8"/>
<circle cx="1088.73" cy="1094.39" r="0.74" fill="#9a9a9a"/>
<circle cx="622.55" cy="1004.4" r="0.61" fill="#9a9a9a"/>
<circle cx="595.39" cy="985.2" r="0.78" fill="#9a9a9a"/>
<circle cx="877.01" cy="1000.14" r="0.82" fill="#9a9a9a"/>
<circle cx="937.2" cy="1005.45" r="0.65" fill="#9a9a9a"/>
<path d="M507.62,996.24 L505.43,993.58 L509.41,993.39 Z" fill="#7d7d7d" stroke="#838383" stroke-width="0.8"/>
<circle cx="998.79" cy="1008.41" r="0.89" fill="#9a9a9a"/>
<circle cx="743.08" cy="1006.45" r="0.95" fill="#9a9a9a"/>
<circle cx="929.04" cy="1009.61" r="0.77" fill="#9a9a9a"/>
<circle cx="809.92" cy="985.33" r="0.82" fill="#9a9a9a"/>
<circle cx="505.69" cy="985.09" r="0.73" fill="#9a9a9a"/>
<path d="M72.45,1117.1 L70.86,1114.05 L74.95,1114.47 Z" fill="#7d7d7d" stroke="#838383" stroke-width="0.8"/>
<circle cx="126.62" cy="991.84" r="0.88" fill="#9a9a9a"/>
<circle cx="489.34" cy="994.38" r="0.98" fill="#9a9a9a"/>
<circle cx="319.29" cy="1004.1" r="0.81" fill="#9a9a9a"/>
<circle cx="287.51" cy="1000.72" r="0.66" fill="#9a9a9a"/>
<circle cx="84.41" cy="1016.5" r="0.72" fill="#9a9a9a"/>
<path d="M52.83,1025.08 L47.74,1026.93 L48.28,1022.48 Z" fill="#7d7d7d" stroke="#838383" stroke-width="0.8"/>
<circle cx="1091.04" cy="1040.6" r="0.93" fill="#9a9a9a"/>
<circle cx="88.74" cy="1004.2" r="0.63" fill="#9a9a9a"/>
<circle cx="206.31" cy="996.45" r="0.94" fill="#9a9a9a"/>
<circle cx="31.15" cy="1047.26" r="0.79" fill="#9a9a9a"/>
<circle cx="315.3" cy="997.35" r="0.76" fill="#9a9a9a"/>
<path d="M74.16,987.75 L73.36,984.31 L77.48,985.48 Z" fill="#7d7d7d" stroke="#838383" stroke-width="0.8"/>
<circle cx="1093.51" cy="1007.56" r="0.89" fill="#9a9a9a"/>
<circle cx="724.68" cy="989.49" r="0.93" fill="#9a9a9a"/>
<circle cx="278.34" cy="987.33" r="0.65" fill="#9a9a9a"/>
<circle cx="419.56" cy="999.94" r="0.93" fill="#9a9a9a"/>
<circle cx="742.04" cy="993.29" r="0.89" fill="#9a9a9a"/>
<path d="M302.06,997.3 L299.75,993.23 L305.3,993.66 Z" fill="#7d7d7d" stroke="#838383" stroke-width="0.8"/>
<circle cx="113.67" cy="1007.21" r="0.7" fill="#9a9a9a"/>
<circle cx="643.18" cy="984.13" r="0.62" fill="#9a9a9a"/>
<circle cx="1041.15" cy="984.99" r="0.78" fill="#9a9a9a"/>
<circle cx="1058.96" cy="1004.68" r="0.93" fill="#9a9a9a"/>
<circle cx="356.11" cy="1006.06" r="0.74" fill="#9a9a9a"/>
<path d="M33.13,1108.77 L33,1112.05 L29.51,1110.31 Z" fill="#7d7d7d" stroke="#838383" stroke-width="0.8"/>
<circle cx="1108.7" cy="1082.75" r="0.74" fill="#9a9a9a"/>
<circle cx="82.13" cy="999.39" r="0.93" fill="#9a9a9a"/>
<circle cx="807.14" cy="990.46" r="0.89" fill="#9a9a9a"/>
<circle cx="455.92" cy="1010.61" r="0.66" fill="#9a9a9a"/>
<circle cx="515.96" cy="1005.87" r="0.68" fill="#9a9a9a"/>
<path d="M128.23,1025.29 L125.87,1021.59 L131.05,1021.8 Z" fill="#7d7d7d" stroke="#838383" stroke-width="0.8"/>
<circle cx="395.26" cy="992.61" r="0.71" fill="#9a9a9a"/>
<circle cx="1075.1" cy="1003.52" r="0.8" fill="#9a9a9a"/>
<circle cx="53.56" cy="987.51" r="0.88" fill="#9a9a9a"/>
<circle cx="147.77" cy="1008.4" r="0.81" fill="#9a9a9a"/>
<circle cx="625.62" cy="988.76" r="0.91" fill="#9a9a9a"/>
<path d="M148.12,993.67 L152.99,992.15 L152.2,996.28 Z" fill="#7d7d7d" stroke="#838383" stroke-width="0.8"/>
<circle cx="679.15" cy="983.79" r="0.72" fill="#9a9a9a"/>
<circle cx="53.53" cy="1067.21" r="0.87" fill="#9a9a9a"/>
<circle cx="274.93" cy="987.83" r="0.74" fill="#9a9a9a"/>
<circle cx="1054.66" cy="1007.03" r="0.76" fill="#9a9a9a"/>
<circle cx="183.26" cy="990.86" r="0.62" fill="#9a9a9a"/>
<path d="M1106.16,1143.03 L1106.04,1139.63 L1109.79,1141.25 Z" fill="#7d7d7d" stroke="#838383" stroke-width="0.8"/>
<circle cx="64.45" cy="1095.62" r="0.75" fill="#9a9a9a"/>
<circle cx="1061.96" cy="1003.15" r="0.99" fill="#9a9a9a"/>
<circle cx="497.05" cy="990.42" r="0.79" fill="#9a9a9a"/>
<circle cx="998.75" cy="987.18" r="0.76" fill="#9a9a9a"/>
<circle cx="73.9" cy="987.96" r="0.63" fill="#9a9a9a"/>
<path d="M36.74,1109.97 L34.09,1113.69 L31.39,1109.99 Z" fill="#7d7d7d" stroke="#838383" stroke-width="0.8"/>
<circle cx="1048.71" cy="986.15" r="0.69" fill="#9a9a9a"/>
<circle cx="115.34" cy="1015.74" r="0.9" fill="#9a9a9a"/>
<circle cx="297.09" cy="993.07" r="0.61" fill="#9a9a9a"/>
<circle cx="1088.68" cy="1133.07" r="1" fill="#9a9a9a"/>
<circle cx="316.08" cy="996.38" r="0.64" fill="#9a9a9a"/>
<path d="M297.21,1006.61 L295.59,1010.57 L292.11,1007.47 Z" fill="#7d7d7d" stroke="#838383" stroke-width="0.8"/>
<circle cx="1101.84" cy="1068.75" r="0.69" fill="#9a9a9a"/>
<circle cx="1100.23" cy="999.5" r="0.79" fill="#9a9a9a"/>
<circle cx="1017.53" cy="988.9" r="0.72" fill="#9a9a9a"/>
<circle cx="1051.36" cy="1000.09" r="0.84" fill="#9a9a9a"/>
<circle cx="428.21" cy="1006.17" r="0.68" fill="#9a9a9a"/>
<path d="M41.21,1036.19 L44.74,1038.1 L40.91,1039.59 Z" fill="#7d7d7d" stroke="#838383" stroke-width="0.8"/>
<circle cx="98.33" cy="999.34" r="0.76" fill="#9a9a9a"/>
<circle cx="128.44" cy="1009.99" r="0.88" fill="#9a9a9a"/>
<circle cx="36.35" cy="1136.18" r="0.77" fill="#9a9a9a"/>
<circle cx="205.55" cy="984.54" r="0.82" fill="#9a9a9a"/>
<circle cx="243.13" cy="1003.66" r="0.98" fill="#9a9a9a"/>
<path d="M444.32,1005.61 L441.45,1001.8 L447.01,1001.71 Z" fill="#7d7d7d" stroke="#838383" stroke-width="0.8"/>
<circle cx="999.08" cy="989.03" r="0.82" fill="#9a9a9a"/>
<circle cx="848.06" cy="988.52" r="0.94" fill="#9a9a9a"/>
<circle cx="503.42" cy="986" r="0.85" fill="#9a9a9a"/>
<circle cx="541.08" cy="1000.31" r="0.65" fill="#9a9a9a"/>
<circle cx="495.05" cy="997.68" r="0.78" fill="#9a9a9a"/>
<path d="M579.46,987.57 L583.25,988.62 L580.22,990.72 Z" fill="#7d7d7d" stroke="#838383" stroke-width="0.8"/>
<circle cx="582.4" cy="991.28" r="0.8" fill="#9a9a9a"/>
<circle cx="1105.81" cy="1107.19" r="0.93" fill="#9a9a9a"/>
<circle cx="1019.32" cy="1010.23" r="0.92" fill="#9a9a9a"/>
<circle cx="1035.03" cy="993.2" r="0.74" fill="#9a9a9a"/>
<circle cx="846.67" cy="1009.15" r="0.96" fill="#9a9a9a"/>
<path d="M375.61,990.06 L372.19,988.11 L376.01,986.72 Z" fill="#7d7d7d" stroke="#838383" stroke-width="0.8"/>
<circle cx="997.05" cy="1010.85" r="0.91" fill="#9a9a9a"/>
<circle cx="1099.74" cy="1080.73" r="0.74" fill="#9a9a9a"/>
<circle cx="1092.78" cy="1082.18" r="0.87" fill="#9a9a9a"/>
<circle cx="66.5" cy="1007.54" r="0.85" fill="#9a9a9a"/>
<circle cx="997.19" cy="1004.58" r="0.69" fill="#9a9a9a"/>
<path d="M738.05,985.85 L733.97,987.66 L734.05,983.93 Z" fill="#7d7d7d" stroke="#838383" stroke-width="0.8"/>
<circle cx="293.08" cy="1007.53" r="0.64" fill="#9a9a9a"/>
<circle cx="315.38" cy="983.97" r="0.86" fill="#9a9a9a"/>
<circle cx="43.34" cy="1076.21" r="0.98" fill="#9a9a9a"/>
<circle cx="354.29" cy="990.29" r="0.96" fill="#9a9a9a"/>
<circle cx="36.86" cy="1126.4" r="0.9" fill="#9a9a9a"/>
<path d="M71.91,1036.83 L74.68,1040.63 L69.18,1040.65 Z" fill="#7d7d7d" stroke="#838383" stroke-width="0.8"/>
<circle cx="46.45" cy="1026.52" r="0.69" fill="#9a9a9a"/>
<circle cx="186.16" cy="986.6" r="0.64" fill="#9a9a9a"/>
<circle cx="183.19" cy="986.91" r="0.62" fill="#9a9a9a"/>
<circle cx="150.93" cy="987.89" r="0.94" fill="#9a9a9a"/>
<circle cx="340.35" cy="999.08" r="0.64" fill="#9a9a9a"/>
<path d="M51.94,1028.4 L50.2,1024.19 L55.63,1025.09 Z" fill="#7d7d7d" stroke="#838383" stroke-width="0.8"/>
<circle cx="63.46" cy="1052.61" r="0.77" fill="#9a9a9a"/>
<circle cx="568.18" cy="1000.8" r="0.85" fill="#9a9a9a"/>
<circle cx="991.64" cy="996.74" r="0.96" fill="#9a9a9a"/>
<circle cx="57.19" cy="1017.25" r="0.71" fill="#9a9a9a"/>
<circle cx="196.96" cy="1008.67" r="0.7" fill="#9a9a9a"/>
<path d="M819.31,998.96 L816.38,1001.21 L815.41,998.06 Z" fill="#7d7d7d" stroke="#838383" stroke-width="0.8"/>
<circle cx="719.02" cy="1000.27" r="0.68" fill="#9a9a9a"/>
<circle cx="449.41" cy="987.8" r="0.76" fill="#9a9a9a"/>
<circle cx="530.34" cy="1006.25" r="0.84" fill="#9a9a9a"/>
<circle cx="71.2" cy="1074.91" r="0.66" fill="#9a9a9a"/>
<circle cx="590.76" cy="999.29" r="0.83" fill="#9a9a9a"/>
<path d="M413.49,993.86 L411.76,990.3 L416.48,990.88 Z" fill="#7d7d7d" stroke="#838383" stroke-width="0.8"/>
<circle cx="44.37" cy="1053.58" r="0.77" fill="#9a9a9a"/>
<circle cx="258.97" cy="1004.11" r="0.91" fill="#9a9a9a"/>
<circle cx="622.13" cy="1003.4" r="0.93" fill="#9a9a9a"/>
<circle cx="952.8" cy="991.76" r="0.93" fill="#9a9a9a"/>
<circle cx="713.82" cy="984.56" r="0.6" fill="#9a9a9a"/>
<path d="M301.61,1000.94 L297.53,999.66 L300.95,997.48 Z" fill="#7d7d7d" stroke="#838383" stroke-width="0.8"/>
<circle cx="885.01" cy="1010.71" r="0.96" fill="#9a9a9a"/>
<circle cx="282.91" cy="1005.83" r="0.8" fill="#9a9a9a"/>
<circle cx="961.91" cy="983.13" r="0.94" fill="#9a9a9a"/>
<circle cx="1067.46" cy="994.89" r="0.85" fill="#9a9a9a"/>
<circle cx="717.02" cy="986.88" r="0.84" fill="#9a9a9a"/>
<path d="M998.75,985.39 L1002.28,988.57 L997.07,989.43 Z" fill="#7d7d7d" stroke="#838383" stroke-width="0.8"/>
<circle cx="73.26" cy="1105.58" r="0.95" fill="#9a9a9a"/>
<circle cx="619.03" cy="990.5" r="0.72" fill="#9a9a9a"/>
<circle cx="36.71" cy="1014.48" r="0.97" fill="#9a9a9a"/>
<circle cx="69.94" cy="1114.45" r="0.97" fill="#9a9a9a"/>
<circle cx="72.53" cy="1002.32" r="0.92" fill="#9a9a9a"/>
<path d="M509.89,986 L511.63,982.04 L515.05,985.22 Z" fill="#7d7d7d" stroke="#838383" stroke-width="0.8"/>
<circle cx="259.26" cy="1007.95" r="0.61" fill="#9a9a9a"/>
<circle cx="35.17" cy="1098.92" r="0.65" fill="#9a9a9a"/>
<circle cx="1073.66" cy="997.07" r="0.95" fill="#9a9a9a"/>
<circle cx="169.29" cy="985.04" r="0.89" fill="#9a9a9a"/>
<circle cx="232.4" cy="990.57" r="0.91" fill="#9a9a9a"/>
<path d="M815.89,994.57 L821.2,995.8 L817.21,998.87 Z" fill="#7d7d7d" stroke="#838383" stroke-width="0.8"/>
<circle cx="804.59" cy="983.95" r="0.61" fill="#9a9a9a"/>
<circle cx="817.8" cy="1010.39" r="0.94" fill="#9a9a9a"/>
<circle cx="555.23" cy="992.22" r="0.75" fill="#9a9a9a"/>
<circle cx="761.03" cy="1006.78" r="0.92" fill="#9a9a9a"/>
<circle cx="31.82" cy="1026.98" r="0.77" fill="#9a9a9a"/>
<path d="M990.09,986.92 L990.11,991.54 L985.09,989.24 Z" fill="#7d7d7d" stroke="#838383" stroke-width="0.8"/>
<circle cx="526.49" cy="997" r="0.92" fill="#9a9a9a"/>
<circle cx="190.93" cy="989.63" r="1" fill="#9a9a9a"/>
<circle cx="433.96" cy="1000.15" r="0.85" fill="#9a9a9a"/>
<circle cx="880.34" cy="1008.7" r="0.84" fill="#9a9a9a"/>
<circle cx="52.22" cy="987.74" r="1" fill="#9a9a9a"/>
<path d="M305.06,990.35 L301.92,988.06 L305.97,987.02 Z" fill="#7d7d7d" stroke="#838383" stroke-width="0.8"/>
<circle cx="120.35" cy="990.72" r="0.82" fill="#9a9a9a"/>
<circle cx="459.19" cy="1002.51" r="0.98" fill="#9a9a9a"/>
<circle cx="514.21" cy="1009.31" r="0.99" fill="#9a9a9a"/>
<circle cx="1101.05" cy="1019.91" r="0.62" fill="#9a9a9a"/>
<circle cx="934.2" cy="990.04" r="0.91" fill="#9a9a9a"/>
<path d="M1096.26,993.59 L1091.03,991.9 L1095.48,989.12 Z" fill="#7d7d7d" stroke="#838383" stroke-width="0.8"/>
<circle cx="848.53" cy="1000.03" r="0.73" fill="#9a9a9a"/>
<circle cx="307.57" cy="1003.23" r="0.79" fill="#9a9a9a"/>
<circle cx="43.62" cy="1104.65" r="0.68" fill="#9a9a9a"/>
<circle cx="68.89" cy="1140.63" r="0.69" fill="#9a9a9a"/>
<circle cx="989.8" cy="1005.9" r="0.78" fill="#9a9a9a"/>
<path d="M708.84,1008.21 L706.29,1005.8 L710.18,1005.23 Z" fill="#7d7d7d" stroke="#838383" stroke-width="0.8"/>
<circle cx="1107.93" cy="1140.19" r="0.64" fill="#9a9a9a"/>
<circle cx="47.31" cy="1120" r="0.74" fill="#9a9a9a"/>
<circle cx="647.05" cy="1005.61" r="0.67" fill="#9a9a9a"/>
<circle cx="242.45" cy="995.55" r="0.63" fill="#9a9a9a"/>
<circle cx="248.47" cy="993.23" r="0.89" fill="#9a9a9a"/>
<path d="M43.3,1138.05 L47.93,1135.1 L48.81,1139.79 Z" fill="#7d7d7d" stroke="#838383" stroke-width="0.8"/>
<circle cx="586.88" cy="1002.65" r="0.89" fill="#9a9a9a"/>
<circle cx="610.32" cy="985.54" r="0.99" fill="#9a9a9a"/>
<circle cx="912.53" cy="987.14" r="0.64" fill="#9a9a9a"/>
<circle cx="49.1" cy="1084.5" r="0.83" fill="#9a9a9a"/>
<circle cx="804.47" cy="989.72" r="0.65" fill="#9a9a9a"/>
<path d="M330.01,1003.94 L331.82,1000.96 L334.14,1003.7 Z" fill="#7d7d7d" stroke="#838383" stroke-width="0.8"/>
<circle cx="836.3" cy="1010.1" r="0.93" fill="#9a9a9a"/>
<circle cx="1089.72" cy="1119.55" r="0.97" fill="#9a9a9a"/>
<circle cx="603.26" cy="993.84" r="0.77" fill="#9a9a9a"/>
<circle cx="575.16" cy="985.56" r="0.66" fill="#9a9a9a"/>
<circle cx="985.41" cy="987.88" r="0.86" fill="#9a9a9a"/>
<path d="M726.38,1001.01 L732.5,1001.34 L729.09,1005.41 Z" fill="#7d7d7d" stroke="#838383" stroke-width="0.8"/>
<circle cx="190.28" cy="1003.19" r="0.65" fill="#9a9a9a"/>
<circle cx="42.83" cy="1042.3" r="0.94" fill="#9a9a9a"/>
<circle cx="1096.51" cy="1032.53" r="0.91" fill="#9a9a9a"/>
<circle cx="201.25" cy="993.42" r="0.95" fill="#9a9a9a"/>
<circle cx="505.19" cy="992.6" r="0.76" fill="#9a9a9a"/>
<path d="M1019.4,1002.48 L1018.51,1005.45 L1015.73,1003.36 Z" fill="#7d7d7d" stroke="#838383" stroke-width="0.8"/>
<circle cx="658.11" cy="997.04" r="0.97" fill="#9a9a9a"/>
<circle cx="1013.42" cy="983.83" r="0.62" fill="#9a9a9a"/>
<circle cx="1105.81" cy="1040.7" r="0.81" fill="#9a9a9a"/>
<circle cx="1099.47" cy="1133.87" r="0.77" fill="#9a9a9a"/>
<circle cx="717.43" cy="989.24" r="0.76" fill="#9a9a9a"/>
<path d="M1104.87,1081.24 L1106.79,1078.34 L1108.97,1081.12 Z" fill="#7d7d7d" stroke="#838383" stroke-width="0.8"/>
<circle cx="145.18" cy="999.12" r="0.67" fill="#9a9a9a"/>
<circle cx="97.08" cy="984.14" r="0.91" fill="#9a9a9a"/>
<circle cx="412.15" cy="1010.97" r="0.71" fill="#9a9a9a"/>
<circle cx="299.28" cy="989.52" r="0.97" fill="#9a9a9a"/>
<circle cx="100.68" cy="1003.08" r="0.93" fill="#9a9a9a"/>
<path d="M284.77,986.13 L288.83,987.93 L284.85,989.84 Z" fill="#7d7d7d" stroke="#838383" stroke-width="0.8"/>
<circle cx="130.04" cy="1028.11" r="0.93" fill="#9a9a9a"/>
<circle cx="122.92" cy="1012.28" r="0.94" fill="#9a9a9a"/>
<circle cx="350.72" cy="993.27" r="0.72" fill="#9a9a9a"/>
<circle cx="274.54" cy="1003.57" r="0.89" fill="#9a9a9a"/>
<circle cx="61.94" cy="1098.22" r="0.87" fill="#9a9a9a"/>
<path d="M228.94,1000.35 L226.28,1004.29 L223.35,1000.48 Z" fill="#7d7d7d" stroke="#838383" stroke-width="0.8"/>
<circle cx="799.59" cy="988.92" r="0.62" fill="#9a9a9a"/>
<circle cx="72.37" cy="1035.17" r="0.86" fill="#9a9a9a"/>
<circle cx="31.05" cy="1124.66" r="0.91" fill="#9a9a9a"/>
<circle cx="339.24" cy="989.35" r="0.94" fill="#9a9a9a"/>
<circle cx="685.98" cy="990.1" r="0.7" fill="#9a9a9a"/>
<path d="M838.54,994.66 L842.2,997.11 L837.72,998.42 Z" fill="#7d7d7d" stroke="#838383" stroke-width="0.8"/>
<circle cx="333.66" cy="997.38" r="0.98" fill="#9a9a9a"/>
<circle cx="519" cy="991.29" r="0.88" fill="#9a9a9a"/>
<circle cx="1032.38" cy="1003.83" r="0.9" fill="#9a9a9a"/>
<circle cx="299.67" cy="992.15" r="0.74" fill="#9a9a9a"/>
<circle cx="365.4" cy="1005.35" r="0.88" fill="#9a9a9a"/>
<path d="M983,1005.44 L987.58,1004.97 L985.8,1008.38 Z" fill="#7d7d7d" stroke="#838383" stroke-width="0.8"/>
<circle cx="851.36" cy="1010.94" r="0.87" fill="#9a9a9a"/>
<circle cx="95.16" cy="1030.03" r="0.68" fill="#9a9a9a"/>
<circle cx="211.54" cy="994.28" r="0.6" fill="#9a9a9a"/>
<circle cx="1101.5" cy="1110.33" r="0.63" fill="#9a9a9a"/>
<circle cx="638.75" cy="1000.61" r="0.8" fill="#9a9a9a"/>
<path d="M619.23,982.21 L616.47,985.9 L613.85,982.15 Z" fill="#7d7d7d" stroke="#838383" stroke-width="0.8"/>
<circle cx="295.67" cy="1005.71" r="0.61" fill="#9a9a9a"/>
<circle cx="1030.84" cy="1010.81" r="0.91" fill="#9a9a9a"/>
<circle cx="288.53" cy="989.05" r="0.83" fill="#9a9a9a"/>
<circle cx="569.49" cy="1008.93" r="0.72" fill="#9a9a9a"/>
<circle cx="657.61" cy="995.72" r="0.88" fill="#9a9a9a"/>
<path d="M1080.12,997.89 L1075.43,998.94 L1076.64,995.16 Z" fill="#7d7d7d" stroke="#838383" stroke-width="0.8"/>
<circle cx="33.03" cy="1125.78" r="0.94" fill="#9a9a9a"/>
<circle cx="1006.32" cy="1010.12" r="0.72" fill="#9a9a9a"/>
<circle cx="985.91" cy="986.76" r="0.68" fill="#9a9a9a"/>
<circle cx="303.77" cy="998.24" r="0.81" fill="#9a9a9a"/>
<circle cx="648.52" cy="1001.33" r="0.81" fill="#9a9a9a"/>
<path d="M663.61,996.73 L665.4,993.88 L667.59,996.55 Z" fill="#7d7d7d" stroke="#838383" stroke-width="0.8"/>
<circle cx="847.45" cy="1001.6" r="1" fill="#9a9a9a"/>
<circle cx="809.33" cy="999.46" r="0.93" fill="#9a9a9a"/>
<circle cx="866.98" cy="1005.39" r="0.91" fill="#9a9a9a"/>
<circle cx="92.16" cy="1022.51" r="0.75" fill="#9a9a9a"/>
<circle cx="46.38" cy="1083.63" r="0.69" fill="#9a9a9a"/>
<path d="M970.35,1008.59 L972.8,1011.74 L968.16,1011.86 Z" fill="#7d7d7d" stroke="#838383" stroke-width="0.8"/>
<circle cx="921.68" cy="1002.99" r="0.75" fill="#9a9a9a"/>
<circle cx="809.52" cy="989.44" r="0.84" fill="#9a9a9a"/>
<circle cx="897.26" cy="1001.32" r="0.97" fill="#9a9a9a"/>
<circle cx="152.66" cy="985.58" r="0.64" fill="#9a9a9a"/>
<circle cx="44.9" cy="1040.54" r="0.66" fill="#9a9a9a"/>
<path d="M895.87,990.5 L891.16,987.8 L896.44,985.89 Z" fill="#7d7d7d" stroke="#838383" stroke-width="0.8"/>
<circle cx="543.82" cy="1009.07" r="0.94" fill="#9a9a9a"/>
<circle cx="689.71" cy="994.98" r="0.73" fill="#9a9a9a"/>
<circle cx="666.36" cy="989.47" r="0.67" fill="#9a9a9a"/>
<circle cx="411.98" cy="983.02" r="0.83" fill="#9a9a9a"/>
<circle cx="390.48" cy="985.51" r="0.78" fill="#9a9a9a"/>
<path d="M1097.22,991.75 L1092.2,990.09 L1096.51,987.44 Z" fill="#7d7d7d" stroke="#838383" stroke-width="0.8"/>
<circle cx="66.84" cy="1077.87" r="0.91" fill="#9a9a9a"/>
<circle cx="407.17" cy="1005.19" r="0.6" fill="#9a9a9a"/>
<circle cx="356.6" cy="1010.89" r="0.63" fill="#9a9a9a"/>
<circle cx="116.43" cy="1012.57" r="0.83" fill="#9a9a9a"/>
<circle cx="1096.46" cy="1043.04" r="0.91" fill="#9a9a9a"/>
<path d="M309.46,987.72 L305.57,985.97 L309.4,984.15 Z" fill="#7d7d7d" stroke="#838383" stroke-width="0.8"/>
<circle cx="679.1" cy="995.56" r="0.92" fill="#9a9a9a"/>
<circle cx="394.8" cy="991.82" r="0.77" fill="#9a9a9a"/>
<circle cx="530.45" cy="984.33" r="0.97" fill="#9a9a9a"/>
<circle cx="130.92" cy="1008.71" r="0.66" fill="#9a9a9a"/>
<circle cx="858.56" cy="997.37" r="0.93" fill="#9a9a9a"/>
<path d="M1049.08,1004.68 L1044.64,1006.47 L1044.92,1002.5 Z" fill="#7d7d7d" stroke="#838383" stroke-width="0.8"/>
<circle cx="127.11" cy="986.78" r="0.65" fill="#9a9a9a"/>
<circle cx="205.05" cy="986.97" r="0.91" fill="#9a9a9a"/>
<circle cx="1005.78" cy="1000.43" r="0.89" fill="#9a9a9a"/>
<circle cx="351.41" cy="986.18" r="0.64" fill="#9a9a9a"/>
<circle cx="1082.28" cy="983.61" r="0.96" fill="#9a9a9a"/>
<path d="M134.39,1009.16 L137.67,1011.04 L134,1012.37 Z" fill="#7d7d7d" stroke="#838383" stroke-width="0.8"/>
<circle cx="1088.02" cy="987.63" r="0.69" fill="#9a9a9a"/>
<circle cx="70.9" cy="1068.32" r="0.69" fill="#9a9a9a"/>
<circle cx="494.94" cy="999.93" r="0.61" fill="#9a9a9a"/>
<circle cx="1100.04" cy="1036.12" r="0.95" fill="#9a9a9a"/>
<circle cx="570.79" cy="1001.21" r="0.74" fill="#9a9a9a"/>
<path d="M101.67,989.27 L105.95,987.53 L105.69,991.36 Z" fill="#7d7d7d" stroke="#838383" stroke-width="0.8"/>
<circle cx="41.44" cy="1099.67" r="0.86" fill="#9a9a9a"/>
<circle cx="472.77" cy="1006.46" r="1" fill="#9a9a9a"/>
<circle cx="35.67" cy="1085.94" r="0.97" fill="#9a9a9a"/>
<circle cx="244.29" cy="1001.86" r="0.94" fill="#9a9a9a"/>
<circle cx="1104.33" cy="1022.09" r="0.85" fill="#9a9a9a"/>
<path d="M271.56,1005.25 L268.73,1008.64 L266.47,1004.99 Z" fill="#7d7d7d" stroke="#838383" stroke-width="0.8"/>
<circle cx="967.2" cy="989.4" r="0.75" fill="#9a9a9a"/>
<circle cx="162.88" cy="1008.31" r="0.7" fill="#9a9a9a"/>
<circle cx="519.03" cy="997.05" r="0.76" fill="#9a9a9a"/>
<circle cx="1106.72" cy="1100.85" r="0.78" fill="#9a9a9a"/>
<circle cx="849.51" cy="1007.63" r="0.87" fill="#9a9a9a"/>
<path d="M47.13,1015.57 L51.06,1015.31 L49.38,1018.16 Z" fill="#7d7d7d" stroke="#838383" stroke-width="0.8"/>
<circle cx="847.6" cy="986.38" r="0.84" fill="#9a9a9a"/>
<circle cx="463.81" cy="988.94" r="0.87" fill="#9a9a9a"/>
<circle cx="861.47" cy="1002.2" r="0.69" fill="#9a9a9a"/>
<circle cx="139.84" cy="997.09" r="0.9" fill="#9a9a9a"/>
<circle cx="639.57" cy="991.41" r="0.87" fill="#9a9a9a"/>
<path d="M1109.6,1120.29 L1108.62,1123.53 L1105.61,1121.23 Z" fill="#7d7d7d" stroke="#838383" stroke-width="0.8"/>
<circle cx="36.51" cy="1151.06" r="0.71" fill="#9a9a9a"/>
<circle cx="483.84" cy="990.75" r="0.72" fill="#9a9a9a"/>
<circle cx="248.17" cy="990.91" r="0.81" fill="#9a9a9a"/>
<circle cx="630.62" cy="990.75" r="0.73" fill="#9a9a9a"/>
<circle cx="720.42" cy="990.37" r="0.95" fill="#9a9a9a"/>
<path d="M256.19,1000.73 L250.49,1000.39 L253.7,996.62 Z" fill="#7d7d7d" stroke="#838383" stroke-width="0.8"/>
</g>
<path d="M29.6,981.7 L1110.3,981.7 L1110.3,1151 L1085.7,1151 L1085.7,1012.5 L134,1012.5 L134,1034.6 L77.2,1034.6 L77.2,1153.7 L29.6,1153.7 Z" fill="none" stroke="#838383" stroke-width="1.7"/>
<path d="M123.5,1034 L134,1020 L134,1034 Z" fill="#777"/>
<line x1="139" y1="1016.8" x2="326" y2="1016.8" stroke="#e41216" stroke-width="5.1" />
<line x1="142.6" y1="1014" x2="142.6" y2="1110" stroke="#e41216" stroke-width="5.2" />
<rect x="324.5" y="1013" width="8.1" height="97" fill="#d0181e"/>
<line x1="145" y1="1085.8" x2="325" y2="1085.8" stroke="#e41216" stroke-width="2" />
<line x1="135.6" y1="1013" x2="135.6" y2="1113" stroke="#ffffff" stroke-width="1.6" />
<line x1="134" y1="1112.6" x2="334" y2="1112.6" stroke="#ffffff" stroke-width="1.8" />
<line x1="333.6" y1="1083" x2="333.6" y2="1113" stroke="#ffffff" stroke-width="1.6" />
<line x1="139.5" y1="1014" x2="139.5" y2="1110" stroke="#ffffff" stroke-width="1" />
<rect x="148.8" y="1089.6" width="80" height="19.2" fill="none" stroke="#ffffff" stroke-width="1.6" />
<rect x="151.8" y="1092.4" width="74" height="13.6" fill="none" stroke="#ffffff" stroke-width="1.3" />
<line x1="146.8" y1="1075" x2="230.8" y2="1075" stroke="#ffffff" stroke-width="1.6" />
<line x1="148.8" y1="1071" x2="148.8" y2="1090" stroke="#ffffff" stroke-width="1.4" />
<line x1="228.8" y1="1071" x2="228.8" y2="1090" stroke="#ffffff" stroke-width="1.4" />
<text transform="translate(188.8 1074) scale(0.45 1)" text-anchor="middle" font-size="25" fill="#ffffff" class="d">390</text>
<rect x="238.8" y="1089.6" width="82.4" height="19.2" fill="none" stroke="#ffffff" stroke-width="1.6" />
<rect x="241.8" y="1092.4" width="76.4" height="13.6" fill="none" stroke="#ffffff" stroke-width="1.3" />
<line x1="236.8" y1="1075" x2="323.2" y2="1075" stroke="#ffffff" stroke-width="1.6" />
<line x1="238.8" y1="1071" x2="238.8" y2="1090" stroke="#ffffff" stroke-width="1.4" />
<line x1="321.2" y1="1071" x2="321.2" y2="1090" stroke="#ffffff" stroke-width="1.4" />
<text transform="translate(280 1074) scale(0.45 1)" text-anchor="middle" font-size="25" fill="#ffffff" class="d">390</text>
<line x1="175" y1="1016" x2="175" y2="1092" stroke="#ffffff" stroke-width="1.7" />
<line x1="168" y1="1016.5" x2="178" y2="1016.5" stroke="#ffffff" stroke-width="1.4" />
<line x1="172" y1="1085.8" x2="180" y2="1085.8" stroke="#ffffff" stroke-width="1.4" />
<line x1="172" y1="1090" x2="180" y2="1090" stroke="#ffffff" stroke-width="1.4" />
<text transform="translate(173.2 1054.5) rotate(-90) scale(0.45 1)" text-anchor="middle" font-size="25" fill="#ffffff" class="d">366</text>
<text transform="translate(173.2 1082.5) rotate(-90) scale(0.36 1)" text-anchor="middle" font-size="22" fill="#ffffff" class="d">14</text>
<text transform="translate(172.6 1100) rotate(-90) scale(0.46 1)" text-anchor="middle" font-size="24" fill="#ffffff" class="d">100</text>
<line x1="121.3" y1="1013.8" x2="121.3" y2="1045" stroke="#ffffff" stroke-width="1.6" />
<line x1="121.3" y1="1081" x2="121.3" y2="1113" stroke="#ffffff" stroke-width="1.6" />
<line x1="118" y1="1013.8" x2="131" y2="1013.8" stroke="#ffffff" stroke-width="1.4" />
<line x1="118" y1="1113" x2="131" y2="1113" stroke="#ffffff" stroke-width="1.4" />
<line x1="118.7" y1="1016.4" x2="123.9" y2="1011.2" stroke="#ffffff" stroke-width="1.3" />
<line x1="118.7" y1="1115.6" x2="123.9" y2="1110.4" stroke="#ffffff" stroke-width="1.3" />
<text transform="translate(120.5 1063) rotate(-90) scale(0.45 1)" text-anchor="middle" font-size="25" fill="#ffffff" class="d">480</text>
<line x1="332" y1="1017.2" x2="822" y2="1017.2" stroke="#e41216" stroke-width="9.9" />
<line x1="332" y1="1017.2" x2="822" y2="1017.2" stroke="#b20a0e" stroke-width="1.7" />
<rect x="332.6" y="1013" width="5" height="69" fill="#d0181e"/>
<rect x="427" y="1013" width="9.6" height="69" fill="#d0181e"/>
<rect x="623.4" y="1013" width="9.6" height="69" fill="#d0181e"/>
<line x1="333" y1="1083.6" x2="823" y2="1083.6" stroke="#19e619" stroke-width="4.6" />
<circle cx="601.7" cy="1046.7" r="10.2" fill="none" stroke="#4aa596" stroke-width="1.8"/>
<line x1="800" y1="1013" x2="800" y2="1034" stroke="#ffffff" stroke-width="1.6" />
<line x1="800" y1="1064" x2="800" y2="1085" stroke="#ffffff" stroke-width="1.6" />
<line x1="797" y1="1013.5" x2="812" y2="1013.5" stroke="#ffffff" stroke-width="1.4" />
<line x1="797" y1="1085" x2="812" y2="1085" stroke="#ffffff" stroke-width="1.4" />
<text transform="translate(799.5 1049) rotate(-90) scale(0.45 1)" text-anchor="middle" font-size="25" fill="#ffffff" class="d">369</text>
<rect x="819.6" y="1013" width="13.2" height="95.5" fill="#d0181e"/>
<line x1="826.2" y1="1013" x2="826.2" y2="1108" stroke="#b81218" stroke-width="1.2" />
<line x1="831" y1="1016.8" x2="917" y2="1016.8" stroke="#e41216" stroke-width="4.5" />
<line x1="914.4" y1="1013" x2="914.4" y2="1109" stroke="#e41216" stroke-width="3" />
<line x1="920.6" y1="1013" x2="920.6" y2="1109" stroke="#e41216" stroke-width="3.2" />
<line x1="991.4" y1="1013" x2="991.4" y2="1110" stroke="#e41216" stroke-width="7" />
<line x1="990" y1="1016.8" x2="1080" y2="1016.8" stroke="#e41216" stroke-width="4.7" />
<rect x="1074.6" y="1013" width="7.2" height="96" fill="#d0181e"/>
<rect x="920.6" y="1033.8" width="66.4" height="80.2" fill="none" stroke="#19e619" stroke-width="2.4" />
<path d="M924.2,1110 V1037.8 H984.2 V1110" fill="none" stroke="#19e619" stroke-width="2.2"/>
<line x1="926" y1="1109.4" x2="983" y2="1109.4" stroke="#19e619" stroke-width="1.8" stroke-dasharray="3 2.6"/>
<line x1="825" y1="1083" x2="825" y2="1113" stroke="#ffffff" stroke-width="1.6" />
<line x1="823" y1="1083.6" x2="826" y2="1083.6" stroke="#ffffff" stroke-width="1.4" />
<line x1="825" y1="1110.6" x2="921" y2="1110.6" stroke="#ffffff" stroke-width="1.5" />
<line x1="825" y1="1114.3" x2="921" y2="1114.3" stroke="#ffffff" stroke-width="1.6" />
<line x1="987.5" y1="1110.6" x2="1083.6" y2="1110.6" stroke="#ffffff" stroke-width="1.5" />
<line x1="987.5" y1="1114.3" x2="1083.6" y2="1114.3" stroke="#ffffff" stroke-width="1.6" />
<line x1="1083.4" y1="1100" x2="1083.4" y2="1114" stroke="#ffffff" stroke-width="1.6" />
<line x1="956" y1="1036.5" x2="956" y2="1111.7" stroke="#ffffff" stroke-width="1.8" />
<line x1="942" y1="1037.2" x2="958" y2="1037.2" stroke="#ffffff" stroke-width="1.6" />
<text transform="translate(954 1074) rotate(-90) scale(0.46 1)" text-anchor="middle" font-size="27" fill="#ffffff" class="d">352</text>
<text transform="translate(956.5 1113) rotate(-90) scale(0.46 1)" text-anchor="middle" font-size="27" fill="#ffffff" class="d">36</text>
<rect x="1100" y="1007" width="24" height="17" fill="#212830"/>
<rect x="1100" y="1051" width="24" height="27" fill="#212830"/>
<rect x="1100" y="1105" width="24" height="20" fill="#212830"/>
<line x1="1125" y1="1012.6" x2="1125" y2="1115.4" stroke="#ffffff" stroke-width="1.75" />
<rect x="1123" y="1047.35" width="4" height="29.7" fill="#212830"/>
<text transform="translate(1124.5 1062.2) rotate(-90) scale(0.45 1)" text-anchor="middle" font-size="27" fill="#ffffff" class="d">470</text>
<line x1="1125" y1="1022" x2="1125" y2="1040" stroke="#ffffff" stroke-width="1.6" />
<text transform="translate(1123 1015.4) rotate(-90) scale(0.45 1)" text-anchor="middle" font-size="27" fill="#ffffff" class="d">10</text>
<text transform="translate(1123 1115) rotate(-90) scale(0.45 1)" text-anchor="middle" font-size="27" fill="#ffffff" class="d">20</text>
<line x1="1151.2" y1="1012.6" x2="1151.2" y2="1115.4" stroke="#ffffff" stroke-width="1.75" />
<rect x="1149.2" y="1049.15" width="4" height="29.7" fill="#212830"/>
<text transform="translate(1150.7 1064) rotate(-90) scale(0.45 1)" text-anchor="middle" font-size="27" fill="#ffffff" class="d">500</text>
<line x1="1133" y1="1012.6" x2="1153" y2="1012.6" stroke="#ffffff" stroke-width="1.4" />
<line x1="1133" y1="1115.4" x2="1153" y2="1115.4" stroke="#ffffff" stroke-width="1.4" />
<line x1="1148.2" y1="1015.6" x2="1154.2" y2="1009.6" stroke="#ffffff" stroke-width="1.3" />
<line x1="1148.2" y1="1118.4" x2="1154.2" y2="1112.4" stroke="#ffffff" stroke-width="1.3" />
<line x1="1122.4" y1="1118" x2="1127.6" y2="1112.8" stroke="#ffffff" stroke-width="1.3" />
<text transform="translate(1084 1146) scale(0.5 1)" text-anchor="middle" font-size="29" fill="#ffffff" class="d">6</text>
<line x1="1092" y1="1128" x2="1100" y2="1120" stroke="#ffffff" stroke-width="1.2" />
<line x1="9.8" y1="1013" x2="9.8" y2="1048" stroke="#ffffff" stroke-width="1.7" />
<line x1="9.8" y1="1080" x2="9.8" y2="1114" stroke="#ffffff" stroke-width="1.7" />
<line x1="0" y1="1013" x2="12" y2="1013" stroke="#ffffff" stroke-width="1.5" />
<line x1="0" y1="1114" x2="12" y2="1114" stroke="#ffffff" stroke-width="1.5" />
<line x1="7.2" y1="1015.6" x2="12.4" y2="1010.4" stroke="#ffffff" stroke-width="1.3" />
<line x1="7.2" y1="1116.6" x2="12.4" y2="1111.4" stroke="#ffffff" stroke-width="1.3" />
<text transform="translate(7.2 1065) rotate(-90) scale(0.45 1)" text-anchor="middle" font-size="27" fill="#ffffff" class="d">500</text>
</g>
<g id="pdims">
<line x1="76.8" y1="899.3" x2="90" y2="899.3" stroke="#ffffff" stroke-width="1.7" />
<line x1="122" y1="899.3" x2="136" y2="899.3" stroke="#7d838b" stroke-width="1.1" />
<line x1="122.6" y1="899.9" x2="125.4" y2="899.9" stroke="#ffffff" stroke-width="1.8" />
<line x1="136" y1="899.3" x2="1083.75" y2="899.3" stroke="#ffffff" stroke-width="1.7" />
<rect x="128.24" y="897.3" width="22.8" height="4" fill="#212830"/>
<rect x="220.13" y="897.3" width="29.7" height="4" fill="#212830"/>
<rect x="320.74" y="897.3" width="22.8" height="4" fill="#212830"/>
<rect x="368.2" y="897.3" width="29.7" height="4" fill="#212830"/>
<rect x="420.73" y="897.3" width="22.8" height="4" fill="#212830"/>
<rect x="515.45" y="897.3" width="29.7" height="4" fill="#212830"/>
<rect x="617.08" y="897.3" width="22.8" height="4" fill="#212830"/>
<rect x="711.8" y="897.3" width="29.7" height="4" fill="#212830"/>
<rect x="815.24" y="897.3" width="22.8" height="4" fill="#212830"/>
<rect x="859.06" y="897.3" width="29.7" height="4" fill="#212830"/>
<rect x="907.96" y="897.3" width="22.8" height="4" fill="#212830"/>
<rect x="939.45" y="897.3" width="29.7" height="4" fill="#212830"/>
<rect x="977.85" y="897.3" width="22.8" height="4" fill="#212830"/>
<rect x="1019.85" y="897.3" width="29.7" height="4" fill="#212830"/>
<rect x="1068.75" y="897.3" width="22.8" height="4" fill="#212830"/>
<rect x="90" y="896.3" width="32" height="6" fill="#212830"/>
<text transform="translate(105.5 898.3) scale(0.485 1)" text-anchor="middle" font-size="28.5" fill="#ffffff" class="d">288</text>
<rect x="590" y="896.3" width="40" height="6" fill="#212830"/>
<text transform="translate(609.5 898.3) scale(0.485 1)" text-anchor="middle" font-size="28.5" fill="#ffffff" class="d">4692</text>
<line x1="76.6" y1="898.3" x2="76.6" y2="917.8" stroke="#ffffff" stroke-width="1.8" />
<line x1="72" y1="901.6" x2="79" y2="895.2" stroke="#ffffff" stroke-width="1.5" />
<line x1="133.4" y1="901.9" x2="138.6" y2="896.7" stroke="#ffffff" stroke-width="1.3" />
<line x1="1081.15" y1="901.9" x2="1086.35" y2="896.7" stroke="#ffffff" stroke-width="1.3" />
<line x1="136" y1="926.7" x2="1083.78" y2="926.7" stroke="#ffffff" stroke-width="1.75" />
<rect x="128.24" y="924.7" width="22.8" height="4" fill="#212830"/>
<rect x="220.13" y="924.7" width="29.7" height="4" fill="#212830"/>
<rect x="320.74" y="924.7" width="22.8" height="4" fill="#212830"/>
<rect x="368.2" y="924.7" width="29.7" height="4" fill="#212830"/>
<rect x="420.73" y="924.7" width="22.8" height="4" fill="#212830"/>
<rect x="515.45" y="924.7" width="29.7" height="4" fill="#212830"/>
<rect x="617.08" y="924.7" width="22.8" height="4" fill="#212830"/>
<rect x="711.8" y="924.7" width="29.7" height="4" fill="#212830"/>
<rect x="815.24" y="924.7" width="22.8" height="4" fill="#212830"/>
<rect x="859.06" y="924.7" width="29.7" height="4" fill="#212830"/>
<rect x="907.96" y="924.7" width="22.8" height="4" fill="#212830"/>
<rect x="939.45" y="924.7" width="29.7" height="4" fill="#212830"/>
<rect x="977.85" y="924.7" width="22.8" height="4" fill="#212830"/>
<rect x="1019.85" y="924.7" width="29.7" height="4" fill="#212830"/>
<rect x="1068.75" y="924.7" width="22.8" height="4" fill="#212830"/>
<text transform="translate(139.64 926.2) scale(0.485 1)" text-anchor="middle" font-size="28.5" fill="#ffffff" class="d">36</text>
<text transform="translate(234.98 926.2) scale(0.485 1)" text-anchor="middle" font-size="28.5" fill="#ffffff" class="d">908</text>
<text transform="translate(332.14 926.2) scale(0.485 1)" text-anchor="middle" font-size="28.5" fill="#ffffff" class="d">54</text>
<text transform="translate(383.05 926.2) scale(0.485 1)" text-anchor="middle" font-size="28.5" fill="#ffffff" class="d">450</text>
<text transform="translate(432.13 926.2) scale(0.485 1)" text-anchor="middle" font-size="28.5" fill="#ffffff" class="d">36</text>
<text transform="translate(530.3 926.2) scale(0.485 1)" text-anchor="middle" font-size="28.5" fill="#ffffff" class="d">936</text>
<text transform="translate(628.48 926.2) scale(0.485 1)" text-anchor="middle" font-size="28.5" fill="#ffffff" class="d">36</text>
<text transform="translate(726.65 926.2) scale(0.485 1)" text-anchor="middle" font-size="28.5" fill="#ffffff" class="d">936</text>
<text transform="translate(826.64 926.2) scale(0.485 1)" text-anchor="middle" font-size="28.5" fill="#ffffff" class="d">54</text>
<text transform="translate(873.91 926.2) scale(0.485 1)" text-anchor="middle" font-size="28.5" fill="#ffffff" class="d">414</text>
<text transform="translate(919.36 926.2) scale(0.485 1)" text-anchor="middle" font-size="28.5" fill="#ffffff" class="d">36</text>
<text transform="translate(954.3 926.2) scale(0.485 1)" text-anchor="middle" font-size="28.5" fill="#ffffff" class="d">310</text>
<text transform="translate(989.25 926.2) scale(0.485 1)" text-anchor="middle" font-size="28.5" fill="#ffffff" class="d">36</text>
<text transform="translate(1034.7 926.2) scale(0.485 1)" text-anchor="middle" font-size="28.5" fill="#ffffff" class="d">414</text>
<text transform="translate(1080.15 926.2) scale(0.485 1)" text-anchor="middle" font-size="28.5" fill="#ffffff" class="d">36</text>
<line x1="133.6" y1="929.1" x2="138.4" y2="924.3" stroke="#ffffff" stroke-width="1.3" />
<line x1="140.87" y1="929.1" x2="145.67" y2="924.3" stroke="#ffffff" stroke-width="1.3" />
<line x1="324.29" y1="929.1" x2="329.09" y2="924.3" stroke="#ffffff" stroke-width="1.3" />
<line x1="335.2" y1="929.1" x2="340" y2="924.3" stroke="#ffffff" stroke-width="1.3" />
<line x1="426.1" y1="929.1" x2="430.9" y2="924.3" stroke="#ffffff" stroke-width="1.3" />
<line x1="433.37" y1="929.1" x2="438.17" y2="924.3" stroke="#ffffff" stroke-width="1.3" />
<line x1="622.44" y1="929.1" x2="627.24" y2="924.3" stroke="#ffffff" stroke-width="1.3" />
<line x1="629.71" y1="929.1" x2="634.51" y2="924.3" stroke="#ffffff" stroke-width="1.3" />
<line x1="818.78" y1="929.1" x2="823.58" y2="924.3" stroke="#ffffff" stroke-width="1.3" />
<line x1="829.69" y1="929.1" x2="834.49" y2="924.3" stroke="#ffffff" stroke-width="1.3" />
<line x1="913.32" y1="929.1" x2="918.12" y2="924.3" stroke="#ffffff" stroke-width="1.3" />
<line x1="920.59" y1="929.1" x2="925.39" y2="924.3" stroke="#ffffff" stroke-width="1.3" />
<line x1="983.21" y1="929.1" x2="988.01" y2="924.3" stroke="#ffffff" stroke-width="1.3" />
<line x1="990.48" y1="929.1" x2="995.28" y2="924.3" stroke="#ffffff" stroke-width="1.3" />
<line x1="1074.11" y1="929.1" x2="1078.91" y2="924.3" stroke="#ffffff" stroke-width="1.3" />
<line x1="1081.38" y1="929.1" x2="1086.18" y2="924.3" stroke="#ffffff" stroke-width="1.3" />
<line x1="136" y1="960" x2="1083.75" y2="960" stroke="#ffffff" stroke-width="1.7" />
<rect x="126.9" y="957" width="20.2" height="6" fill="#212830"/>
<rect x="146.35" y="957" width="13.3" height="6" fill="#212830"/>
<rect x="172.45" y="957" width="27.1" height="6" fill="#212830"/>
<rect x="226.35" y="957" width="13.3" height="6" fill="#212830"/>
<rect x="268.45" y="957" width="27.1" height="6" fill="#212830"/>
<rect x="306.35" y="957" width="13.3" height="6" fill="#212830"/>
<rect x="320.9" y="957" width="20.2" height="6" fill="#212830"/>
<rect x="342.35" y="957" width="13.3" height="6" fill="#212830"/>
<rect x="368.45" y="957" width="27.1" height="6" fill="#212830"/>
<rect x="424.35" y="957" width="13.3" height="6" fill="#212830"/>
<rect x="466.45" y="957" width="27.1" height="6" fill="#212830"/>
<rect x="522.35" y="957" width="13.3" height="6" fill="#212830"/>
<rect x="564.45" y="957" width="27.1" height="6" fill="#212830"/>
<rect x="621.35" y="957" width="13.3" height="6" fill="#212830"/>
<rect x="663.45" y="957" width="27.1" height="6" fill="#212830"/>
<rect x="719.35" y="957" width="13.3" height="6" fill="#212830"/>
<rect x="761.45" y="957" width="27.1" height="6" fill="#212830"/>
<rect x="801.35" y="957" width="13.3" height="6" fill="#212830"/>
<rect x="815.9" y="957" width="20.2" height="6" fill="#212830"/>
<rect x="838.35" y="957" width="13.3" height="6" fill="#212830"/>
<rect x="859.45" y="957" width="27.1" height="6" fill="#212830"/>
<rect x="896.35" y="957" width="13.3" height="6" fill="#212830"/>
<rect x="909.9" y="957" width="20.2" height="6" fill="#212830"/>
<rect x="940.45" y="957" width="27.1" height="6" fill="#212830"/>
<rect x="977.9" y="957" width="20.2" height="6" fill="#212830"/>
<rect x="996.35" y="957" width="13.3" height="6" fill="#212830"/>
<rect x="1020.45" y="957" width="27.1" height="6" fill="#212830"/>
<rect x="1059.35" y="957" width="13.3" height="6" fill="#212830"/>
<rect x="1072.9" y="957" width="20.2" height="6" fill="#212830"/>
<text transform="translate(137 959.5) scale(0.485 1)" text-anchor="middle" font-size="28.5" fill="#ffffff" class="d">18</text>
<text transform="translate(153 959.5) scale(0.485 1)" text-anchor="middle" font-size="28.5" fill="#ffffff" class="d">2</text>
<text transform="translate(186 959.5) scale(0.485 1)" text-anchor="middle" font-size="28.5" fill="#ffffff" class="d">469</text>
<text transform="translate(233 959.5) scale(0.485 1)" text-anchor="middle" font-size="28.5" fill="#ffffff" class="d">2</text>
<text transform="translate(282 959.5) scale(0.485 1)" text-anchor="middle" font-size="28.5" fill="#ffffff" class="d">469</text>
<text transform="translate(313 959.5) scale(0.485 1)" text-anchor="middle" font-size="28.5" fill="#ffffff" class="d">2</text>
<text transform="translate(331 959.5) scale(0.485 1)" text-anchor="middle" font-size="28.5" fill="#ffffff" class="d">18</text>
<text transform="translate(349 959.5) scale(0.485 1)" text-anchor="middle" font-size="28.5" fill="#ffffff" class="d">2</text>
<text transform="translate(382 959.5) scale(0.485 1)" text-anchor="middle" font-size="28.5" fill="#ffffff" class="d">433</text>
<text transform="translate(431 959.5) scale(0.485 1)" text-anchor="middle" font-size="28.5" fill="#ffffff" class="d">2</text>
<text transform="translate(480 959.5) scale(0.485 1)" text-anchor="middle" font-size="28.5" fill="#ffffff" class="d">434</text>
<text transform="translate(529 959.5) scale(0.485 1)" text-anchor="middle" font-size="28.5" fill="#ffffff" class="d">2</text>
<text transform="translate(578 959.5) scale(0.485 1)" text-anchor="middle" font-size="28.5" fill="#ffffff" class="d">434</text>
<text transform="translate(628 959.5) scale(0.485 1)" text-anchor="middle" font-size="28.5" fill="#ffffff" class="d">2</text>
<text transform="translate(677 959.5) scale(0.485 1)" text-anchor="middle" font-size="28.5" fill="#ffffff" class="d">434</text>
<text transform="translate(726 959.5) scale(0.485 1)" text-anchor="middle" font-size="28.5" fill="#ffffff" class="d">2</text>
<text transform="translate(775 959.5) scale(0.485 1)" text-anchor="middle" font-size="28.5" fill="#ffffff" class="d">433</text>
<text transform="translate(808 959.5) scale(0.485 1)" text-anchor="middle" font-size="28.5" fill="#ffffff" class="d">2</text>
<text transform="translate(826 959.5) scale(0.485 1)" text-anchor="middle" font-size="28.5" fill="#ffffff" class="d">18</text>
<text transform="translate(845 959.5) scale(0.485 1)" text-anchor="middle" font-size="28.5" fill="#ffffff" class="d">2</text>
<text transform="translate(873 959.5) scale(0.485 1)" text-anchor="middle" font-size="28.5" fill="#ffffff" class="d">446</text>
<text transform="translate(903 959.5) scale(0.485 1)" text-anchor="middle" font-size="28.5" fill="#ffffff" class="d">2</text>
<text transform="translate(920 959.5) scale(0.485 1)" text-anchor="middle" font-size="28.5" fill="#ffffff" class="d">18</text>
<text transform="translate(954 959.5) scale(0.485 1)" text-anchor="middle" font-size="28.5" fill="#ffffff" class="d">310</text>
<text transform="translate(988 959.5) scale(0.485 1)" text-anchor="middle" font-size="28.5" fill="#ffffff" class="d">18</text>
<text transform="translate(1003 959.5) scale(0.485 1)" text-anchor="middle" font-size="28.5" fill="#ffffff" class="d">2</text>
<text transform="translate(1034 959.5) scale(0.485 1)" text-anchor="middle" font-size="28.5" fill="#ffffff" class="d">446</text>
<text transform="translate(1066 959.5) scale(0.485 1)" text-anchor="middle" font-size="28.5" fill="#ffffff" class="d">2</text>
<text transform="translate(1083 959.5) scale(0.485 1)" text-anchor="middle" font-size="28.5" fill="#ffffff" class="d">18</text>
<line x1="136.2" y1="963" x2="136.2" y2="978.5" stroke="#ffffff" stroke-width="2.3" />
<line x1="139.6" y1="963" x2="139.6" y2="978.5" stroke="#ffffff" stroke-width="2.3" />
<line x1="233" y1="963" x2="233" y2="978.5" stroke="#ffffff" stroke-width="2.3" />
<line x1="329.4" y1="963" x2="329.4" y2="978.5" stroke="#ffffff" stroke-width="2.3" />
<line x1="333.4" y1="963" x2="333.4" y2="978.5" stroke="#ffffff" stroke-width="2.3" />
<line x1="431" y1="963" x2="431" y2="978.5" stroke="#ffffff" stroke-width="2.3" />
<line x1="529" y1="963" x2="529" y2="978.5" stroke="#ffffff" stroke-width="2.3" />
<line x1="628" y1="963" x2="628" y2="978.5" stroke="#ffffff" stroke-width="2.3" />
<line x1="726" y1="963" x2="726" y2="978.5" stroke="#ffffff" stroke-width="2.3" />
<line x1="821.6" y1="963" x2="821.6" y2="978.5" stroke="#ffffff" stroke-width="2.3" />
<line x1="825.6" y1="963" x2="825.6" y2="978.5" stroke="#ffffff" stroke-width="2.3" />
<line x1="918.6" y1="963" x2="918.6" y2="978.5" stroke="#ffffff" stroke-width="2.3" />
<line x1="922.2" y1="963" x2="922.2" y2="978.5" stroke="#ffffff" stroke-width="2.3" />
<line x1="988.2" y1="963" x2="988.2" y2="978.5" stroke="#ffffff" stroke-width="2.3" />
<line x1="991.8" y1="963" x2="991.8" y2="978.5" stroke="#ffffff" stroke-width="2.3" />
<line x1="1083.4" y1="963" x2="1083.4" y2="978.5" stroke="#ffffff" stroke-width="2.3" />
<line x1="136.2" y1="929" x2="136.2" y2="940" stroke="#ffffff" stroke-width="1.1" />
<line x1="143.3" y1="929" x2="143.3" y2="940" stroke="#ffffff" stroke-width="1.1" />
<line x1="326.7" y1="929" x2="326.7" y2="940" stroke="#ffffff" stroke-width="1.1" />
<line x1="337.6" y1="929" x2="337.6" y2="940" stroke="#ffffff" stroke-width="1.1" />
<line x1="428.5" y1="929" x2="428.5" y2="940" stroke="#ffffff" stroke-width="1.1" />
<line x1="435.8" y1="929" x2="435.8" y2="940" stroke="#ffffff" stroke-width="1.1" />
<line x1="624.8" y1="929" x2="624.8" y2="940" stroke="#ffffff" stroke-width="1.1" />
<line x1="632.1" y1="929" x2="632.1" y2="940" stroke="#ffffff" stroke-width="1.1" />
<line x1="821.2" y1="929" x2="821.2" y2="940" stroke="#ffffff" stroke-width="1.1" />
<line x1="832.1" y1="929" x2="832.1" y2="940" stroke="#ffffff" stroke-width="1.1" />
<line x1="915.7" y1="929" x2="915.7" y2="940" stroke="#ffffff" stroke-width="1.1" />
<line x1="923" y1="929" x2="923" y2="940" stroke="#ffffff" stroke-width="1.1" />
<line x1="985.6" y1="929" x2="985.6" y2="940" stroke="#ffffff" stroke-width="1.1" />
<line x1="992.9" y1="929" x2="992.9" y2="940" stroke="#ffffff" stroke-width="1.1" />
<line x1="1076.5" y1="929" x2="1076.5" y2="940" stroke="#ffffff" stroke-width="1.1" />
<line x1="1083.75" y1="929" x2="1083.75" y2="940" stroke="#ffffff" stroke-width="1.1" />
</g>
<g id="txt">
<text transform="translate(557 90.5) scale(1 1.1)" font-size="23.5" class="y" stroke="#ffff00" stroke-width="0.45" textLength="161.5" lengthAdjust="spacingAndGlyphs">所有层板内缩10</text>
<line x1="556.5" y1="94.2" x2="719" y2="94.2" stroke="#ffff00" stroke-width="2" />
<text transform="translate(557 125.8) scale(1 1.1)" font-size="23.5" class="y" stroke="#ffff00" stroke-width="0.45" textLength="310" lengthAdjust="spacingAndGlyphs">带灯位置居中开好10宽*11深槽</text>
<line x1="556.5" y1="129.6" x2="867.5" y2="129.6" stroke="#ffff00" stroke-width="2" />
<text transform="translate(911.5 145.6) scale(1 1.1)" font-size="23.5" class="y" stroke="#ffff00" stroke-width="0.45" textLength="183.5" lengthAdjust="spacingAndGlyphs">开放柜层板内缩20</text>
<line x1="911" y1="149.4" x2="1095.5" y2="149.4" stroke="#ffff00" stroke-width="2" />
<text transform="translate(-30.5 113.8) scale(1 1.1)" font-size="23.5" class="y" stroke="#ffff00" stroke-width="0.45" textLength="46.5" lengthAdjust="spacingAndGlyphs">深槽</text>
<line x1="-31" y1="117.4" x2="16.5" y2="117.4" stroke="#ffff00" stroke-width="2" />
<line x1="941" y1="150" x2="941" y2="286" stroke="#ffffff" stroke-width="1.6" />
<path d="M937.4,283.5 L944.6,283.5 L941,291.5 Z" fill="#8a8a8a"/>
<text transform="translate(826.8 257) scale(1 1.1)" font-size="13.6" class="y" stroke="#ffff00" stroke-width="1.2" textLength="68" lengthAdjust="spacingAndGlyphs">下多块背板</text>
<line x1="826.5" y1="259.6" x2="896" y2="259.6" stroke="#ffff00" stroke-width="1.6" />
<text transform="translate(826.8 278.6) scale(1 1.1)" font-size="13.6" class="y" stroke="#ffff00" stroke-width="1.2" textLength="95.5" lengthAdjust="spacingAndGlyphs">做活动能拆卸压条</text>
<line x1="826.5" y1="281.2" x2="923" y2="281.2" stroke="#ffff00" stroke-width="1.6" />
<text transform="translate(992.8 449) scale(1 1.1)" font-size="13.8" class="y" stroke="#ffff00" stroke-width="1.2" textLength="83" lengthAdjust="spacingAndGlyphs">不需要开出来</text>
<line x1="992.5" y1="451.6" x2="1076.5" y2="451.6" stroke="#ffff00" stroke-width="1.6" />
<line x1="1043.4" y1="452" x2="1043.4" y2="466" stroke="#ffffff" stroke-width="1.5" />
<rect x="1035.4" y="467" width="16.2" height="15.8" fill="none" stroke="#4aa596" stroke-width="1.8" />
<text transform="translate(339.2 580.4) scale(1 1.1)" font-size="11.4" class="y" stroke="#ffff00" stroke-width="1.5" textLength="21.5" lengthAdjust="spacingAndGlyphs">抽屉</text>
<line x1="339" y1="582" x2="361.5" y2="582" stroke="#ffff00" stroke-width="1.4" />
<text transform="translate(339.2 639) scale(1 1.1)" font-size="11.4" class="y" stroke="#ffff00" stroke-width="1.5" textLength="21.5" lengthAdjust="spacingAndGlyphs">抽屉</text>
<line x1="339" y1="640.6" x2="361.5" y2="640.6" stroke="#ffff00" stroke-width="1.4" />
<text transform="translate(339.2 699) scale(1 1.1)" font-size="11.4" class="y" stroke="#ffff00" stroke-width="1.5" textLength="21.5" lengthAdjust="spacingAndGlyphs">抽屉</text>
<line x1="339" y1="700.6" x2="361.5" y2="700.6" stroke="#ffff00" stroke-width="1.4" />
<text transform="translate(375 595.4) scale(1 1.1)" font-size="11.6" class="y" stroke="#ffff00" stroke-width="1.5" textLength="63.5" lengthAdjust="spacingAndGlyphs">C型柜体拉手</text>
<line x1="375" y1="597.2" x2="439" y2="597.2" stroke="#ffff00" stroke-width="1.4" />
<text transform="translate(375 653.4) scale(1 1.1)" font-size="11.6" class="y" stroke="#ffff00" stroke-width="1.5" textLength="63.5" lengthAdjust="spacingAndGlyphs">C型柜体拉手</text>
<line x1="375" y1="655.2" x2="439" y2="655.2" stroke="#ffff00" stroke-width="1.4" />
<text transform="translate(537.8 556.8) scale(1 1.1)" font-size="11.6" class="y" stroke="#ffff00" stroke-width="1.5" textLength="64.5" lengthAdjust="spacingAndGlyphs">L型柜体拉手</text>
<line x1="531.6" y1="561.4" x2="604" y2="561.4" stroke="#ffffff" stroke-width="1.7" />
<line x1="532" y1="540" x2="532" y2="561.4" stroke="#ffffff" stroke-width="1.6" />
<path d="M528.2,541.5 L535.8,541.5 L532,534.5 Z" fill="#8a8a8a"/>
<text transform="translate(475.4 431.4) scale(1 1.1)" font-size="12.6" class="y" stroke="#ffff00" stroke-width="1.5" textLength="69" lengthAdjust="spacingAndGlyphs">此灯槽内缩20</text>
<line x1="473.4" y1="404" x2="473.4" y2="434.4" stroke="#ffffff" stroke-width="1.6" />
<line x1="473" y1="434.4" x2="545.5" y2="434.4" stroke="#ffffff" stroke-width="1.7" />
<path d="M469.8,407.5 L477,407.5 L473.4,400.5 Z" fill="#8a8a8a"/>
<text transform="translate(507.6 508) scale(1 1.1)" font-size="11.8" class="y" stroke="#ffff00" stroke-width="1.5" textLength="84.5" lengthAdjust="spacingAndGlyphs">台面开10*5mm槽</text>
<line x1="507" y1="510.2" x2="598.5" y2="510.2" stroke="#ffffff" stroke-width="1.7" />
<line x1="507.2" y1="510" x2="507.2" y2="533" stroke="#ffffff" stroke-width="1.6" />
<path d="M503.6,530.5 L510.8,530.5 L507.2,537.5 Z" fill="#8a8a8a"/>
<text x="937.2" y="218" font-size="9.6" class="s" font-weight="normal" fill="#ff1a1a" stroke="#ff1a1a" stroke-width="0.4" textLength="33" lengthAdjust="spacingAndGlyphs">层板灯</text>
<line x1="936.7" y1="220.2" x2="970.7" y2="220.2" stroke="#ff1a1a" stroke-width="1.8" />
<text x="937.2" y="337.2" font-size="9.6" class="s" font-weight="normal" fill="#ff1a1a" stroke="#ff1a1a" stroke-width="0.4" textLength="33" lengthAdjust="spacingAndGlyphs">层板灯</text>
<line x1="936.7" y1="339.4" x2="970.7" y2="339.4" stroke="#ff1a1a" stroke-width="1.8" />
<text x="937.2" y="405.8" font-size="9.6" class="s" font-weight="normal" fill="#ff1a1a" stroke="#ff1a1a" stroke-width="0.4" textLength="33" lengthAdjust="spacingAndGlyphs">层板灯</text>
<line x1="936.7" y1="408" x2="970.7" y2="408" stroke="#ff1a1a" stroke-width="1.8" />
<text x="937.2" y="540.4" font-size="9.6" class="s" font-weight="normal" fill="#ff1a1a" stroke="#ff1a1a" stroke-width="0.4" textLength="33" lengthAdjust="spacingAndGlyphs">层板灯</text>
<line x1="936.7" y1="542.6" x2="970.7" y2="542.6" stroke="#ff1a1a" stroke-width="1.8" />
<text x="937.2" y="589.5" font-size="9.6" class="s" font-weight="normal" fill="#ff1a1a" stroke="#ff1a1a" stroke-width="0.4" textLength="33" lengthAdjust="spacingAndGlyphs">层板灯</text>
<line x1="936.7" y1="591.7" x2="970.7" y2="591.7" stroke="#ff1a1a" stroke-width="1.8" />
<text x="555.4" y="424.2" font-size="9.6" class="s" font-weight="normal" fill="#ff1a1a" stroke="#ff1a1a" stroke-width="0.4" textLength="31" lengthAdjust="spacingAndGlyphs">层板灯</text>
<line x1="554.9" y1="425.8" x2="586.9" y2="425.8" stroke="#ff1a1a" stroke-width="1.8" />
<text x="665" y="462.6" font-size="13.2" class="s" font-weight="bold" fill="#ff1a1a" stroke="#ff1a1a" stroke-width="0.4" textLength="53.5" lengthAdjust="spacingAndGlyphs">岩板台面</text>
<line x1="664.5" y1="464.6" x2="719" y2="464.6" stroke="#ff1a1a" stroke-width="1.8" />
<text x="655" y="481.4" font-size="13.2" class="s" font-weight="bold" fill="#ff1a1a" stroke="#ff1a1a" stroke-width="0.4" textLength="63.5" lengthAdjust="spacingAndGlyphs">台面+上墙</text>
<line x1="654.5" y1="483.6" x2="719" y2="483.6" stroke="#ff1a1a" stroke-width="1.8" />
<text x="537.6" y="233.2" font-size="11.6" class="s" fill="#ff1aff" stroke="#ff1aff" stroke-width="0.5" textLength="81" lengthAdjust="spacingAndGlyphs">天花上有电线</text>
<line x1="537" y1="236.1" x2="620.5" y2="236.1" stroke="#ff1aff" stroke-width="2.3" />
<rect x="565.6" y="196.4" width="9.4" height="9.4" rx="3.4" fill="none" stroke="#ff1aff" stroke-width="1.7"/>
<path d="M563.6,208.6 L577,212.8 L565,218" fill="none" stroke="#ff1aff" stroke-width="1.8"/>
<text x="568.2" y="203.6" font-size="6.4" class="s" font-weight="bold" fill="#ff1aff">P</text>
<path d="M590.9,200.2 H612.5 V215 L605,221.4 H598.4 L590.9,215 Z" fill="none" stroke="#4aa596" stroke-width="2.0"/>
<rect x="555.2" y="467.6" width="15.9" height="15" fill="none" stroke="#4aa596" stroke-width="1.7" />
<rect x="571.1" y="467.6" width="15.9" height="15" fill="none" stroke="#4aa596" stroke-width="1.7" />
<rect x="587" y="467.6" width="15.9" height="15" fill="none" stroke="#4aa596" stroke-width="1.7" />
<rect x="602.9" y="467.6" width="15.9" height="15" fill="none" stroke="#4aa596" stroke-width="1.7" />
<text x="138.5" y="855.5" font-size="53.6" class="t" textLength="375" lengthAdjust="spacingAndGlyphs">餐厅酒柜立面图</text>
<line x1="138.5" y1="864.8" x2="514" y2="864.8" stroke="#f01418" stroke-width="2.2" />
<text x="115.8" y="1198" font-size="53.6" class="t" textLength="482" lengthAdjust="spacingAndGlyphs">餐厅酒柜上柜平面图</text>
<line x1="115.5" y1="1209" x2="599" y2="1209" stroke="#f01418" stroke-width="2.2" />
</g>
</g>
</svg>
</body></html>
